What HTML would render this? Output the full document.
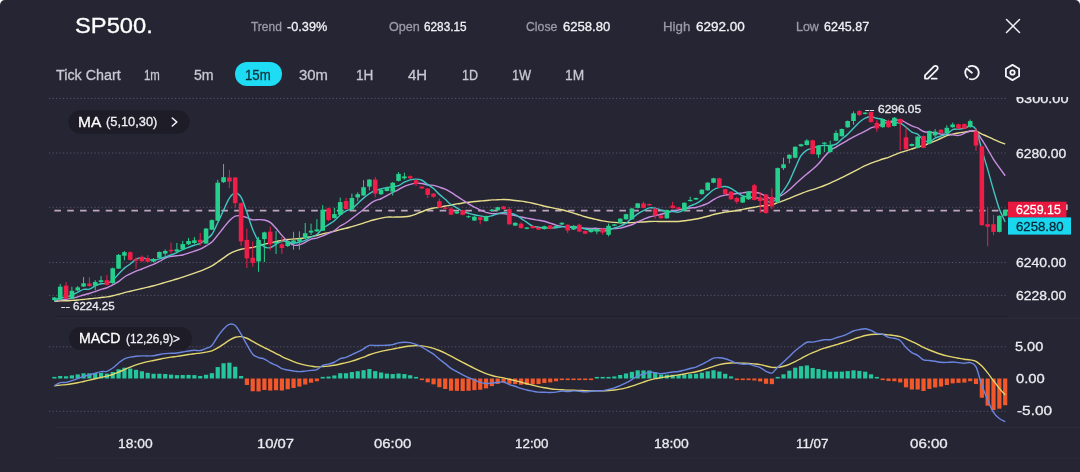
<!DOCTYPE html>
<html><head><meta charset="utf-8"><style>
*{margin:0;padding:0;box-sizing:border-box}
html,body{width:1080px;height:472px;background:#fff;overflow:hidden}
body{font-family:"Liberation Sans",Arial,sans-serif;}
#p{position:absolute;left:0;top:0;width:1080px;height:472px;background:#262534;border-radius:5px 5px 0 0;overflow:hidden}
.t{position:absolute;white-space:pre;line-height:1;transform-origin:0 0;-webkit-text-stroke:0.3px currentColor}
svg{position:absolute;left:0;top:0}
</style></head><body><div id="p">
<svg width="1080" height="472" viewBox="0 0 1080 472">
<line x1="49" y1="98.4" x2="1008" y2="98.4" stroke="#55546a" stroke-width="1" stroke-dasharray="1.2 2.3"/>
<line x1="49" y1="153" x2="1008" y2="153" stroke="#55546a" stroke-width="1" stroke-dasharray="1.2 2.3"/>
<line x1="49" y1="207.3" x2="1008" y2="207.3" stroke="#55546a" stroke-width="1" stroke-dasharray="1.2 2.3"/>
<line x1="49" y1="262.5" x2="1008" y2="262.5" stroke="#55546a" stroke-width="1" stroke-dasharray="1.2 2.3"/>
<line x1="49" y1="295.35" x2="1008" y2="295.35" stroke="#55546a" stroke-width="1" stroke-dasharray="1.2 2.3"/>
<line x1="49" y1="346.8" x2="1008" y2="346.8" stroke="#55546a" stroke-width="1" stroke-dasharray="1.2 2.3"/>
<line x1="49" y1="411.3" x2="1008" y2="411.3" stroke="#55546a" stroke-width="1" stroke-dasharray="1.2 2.3"/>
<line x1="56" y1="317" x2="1008" y2="317" stroke="#1c1b26" stroke-width="1"/>
<line x1="56" y1="318" x2="1080" y2="318" stroke="#2f2e3c" stroke-width="1"/>
<line x1="56" y1="427.6" x2="1080" y2="427.6" stroke="#2e2d3b" stroke-width="1"/>
<line x1="56" y1="458.3" x2="1080" y2="458.3" stroke="#2c2b39" stroke-width="1"/>
<line x1="49" y1="210.6" x2="1008" y2="210.6" stroke="#bda7be" stroke-width="1.6" stroke-dasharray="6.6 6.242" stroke-dashoffset="7.48"/>
<rect x="52.3" y="376.9" width="4.2" height="1.6" fill="#25c69c"/>
<rect x="58.13" y="376" width="4.2" height="2.5" fill="#25c69c"/>
<rect x="63.97" y="376.29" width="4.2" height="2.21" fill="#25c69c"/>
<rect x="69.8" y="375.36" width="4.2" height="3.14" fill="#25c69c"/>
<rect x="75.63" y="374.39" width="4.2" height="4.11" fill="#25c69c"/>
<rect x="81.47" y="373.33" width="4.2" height="5.17" fill="#25c69c"/>
<rect x="87.3" y="373.32" width="4.2" height="5.18" fill="#25c69c"/>
<rect x="93.13" y="372.97" width="4.2" height="5.53" fill="#25c69c"/>
<rect x="98.96" y="372.76" width="4.2" height="5.74" fill="#25c69c"/>
<rect x="104.8" y="373.66" width="4.2" height="4.84" fill="#25c69c"/>
<rect x="110.63" y="371.98" width="4.2" height="6.52" fill="#25c69c"/>
<rect x="116.46" y="369.29" width="4.2" height="9.21" fill="#25c69c"/>
<rect x="122.3" y="367.73" width="4.2" height="10.77" fill="#25c69c"/>
<rect x="128.13" y="368.55" width="4.2" height="9.95" fill="#25c69c"/>
<rect x="133.96" y="369.81" width="4.2" height="8.69" fill="#25c69c"/>
<rect x="139.8" y="371.27" width="4.2" height="7.23" fill="#25c69c"/>
<rect x="145.63" y="372.79" width="4.2" height="5.71" fill="#25c69c"/>
<rect x="151.46" y="373.77" width="4.2" height="4.73" fill="#25c69c"/>
<rect x="157.29" y="373.74" width="4.2" height="4.76" fill="#25c69c"/>
<rect x="163.13" y="374" width="4.2" height="4.5" fill="#25c69c"/>
<rect x="168.96" y="374.63" width="4.2" height="3.87" fill="#25c69c"/>
<rect x="174.79" y="375.14" width="4.2" height="3.36" fill="#25c69c"/>
<rect x="180.63" y="375.03" width="4.2" height="3.47" fill="#25c69c"/>
<rect x="186.46" y="374.89" width="4.2" height="3.61" fill="#25c69c"/>
<rect x="192.29" y="375.1" width="4.2" height="3.4" fill="#25c69c"/>
<rect x="198.13" y="375.96" width="4.2" height="2.54" fill="#25c69c"/>
<rect x="203.96" y="374.77" width="4.2" height="3.73" fill="#25c69c"/>
<rect x="209.79" y="373.18" width="4.2" height="5.32" fill="#25c69c"/>
<rect x="215.62" y="367.07" width="4.2" height="11.43" fill="#25c69c"/>
<rect x="221.46" y="363.28" width="4.2" height="15.22" fill="#25c69c"/>
<rect x="227.29" y="362.68" width="4.2" height="15.82" fill="#25c69c"/>
<rect x="233.12" y="366.73" width="4.2" height="11.77" fill="#25c69c"/>
<rect x="238.96" y="376.04" width="4.2" height="2.46" fill="#25c69c"/>
<rect x="244.79" y="378.5" width="4.2" height="6.46" fill="#f2582a"/>
<rect x="250.62" y="378.5" width="4.2" height="12.76" fill="#f2582a"/>
<rect x="256.45" y="378.5" width="4.2" height="12.91" fill="#f2582a"/>
<rect x="262.29" y="378.5" width="4.2" height="11.5" fill="#f2582a"/>
<rect x="268.12" y="378.5" width="4.2" height="12.09" fill="#f2582a"/>
<rect x="273.95" y="378.5" width="4.2" height="11.73" fill="#f2582a"/>
<rect x="279.79" y="378.5" width="4.2" height="12.03" fill="#f2582a"/>
<rect x="285.62" y="378.5" width="4.2" height="10.79" fill="#f2582a"/>
<rect x="291.45" y="378.5" width="4.2" height="9.47" fill="#f2582a"/>
<rect x="297.29" y="378.5" width="4.2" height="8.08" fill="#f2582a"/>
<rect x="303.12" y="378.5" width="4.2" height="6.05" fill="#f2582a"/>
<rect x="308.95" y="378.5" width="4.2" height="4.21" fill="#f2582a"/>
<rect x="314.78" y="378.5" width="4.2" height="2.75" fill="#f2582a"/>
<rect x="320.62" y="376.9" width="4.2" height="1.6" fill="#25c69c"/>
<rect x="326.45" y="376.57" width="4.2" height="1.93" fill="#25c69c"/>
<rect x="332.28" y="375.44" width="4.2" height="3.06" fill="#25c69c"/>
<rect x="338.12" y="373.2" width="4.2" height="5.3" fill="#25c69c"/>
<rect x="343.95" y="373.25" width="4.2" height="5.25" fill="#25c69c"/>
<rect x="349.78" y="372.03" width="4.2" height="6.47" fill="#25c69c"/>
<rect x="355.62" y="371.2" width="4.2" height="7.3" fill="#25c69c"/>
<rect x="361.45" y="370.18" width="4.2" height="8.32" fill="#25c69c"/>
<rect x="367.28" y="369.02" width="4.2" height="9.48" fill="#25c69c"/>
<rect x="373.11" y="371.12" width="4.2" height="7.38" fill="#25c69c"/>
<rect x="378.95" y="372.48" width="4.2" height="6.02" fill="#25c69c"/>
<rect x="384.78" y="373.61" width="4.2" height="4.89" fill="#25c69c"/>
<rect x="390.61" y="374.06" width="4.2" height="4.44" fill="#25c69c"/>
<rect x="396.45" y="373.5" width="4.2" height="5" fill="#25c69c"/>
<rect x="402.28" y="374.07" width="4.2" height="4.43" fill="#25c69c"/>
<rect x="408.11" y="375.24" width="4.2" height="3.26" fill="#25c69c"/>
<rect x="413.95" y="376.9" width="4.2" height="1.6" fill="#25c69c"/>
<rect x="419.78" y="378.5" width="4.2" height="1.6" fill="#f2582a"/>
<rect x="425.61" y="378.5" width="4.2" height="3.8" fill="#f2582a"/>
<rect x="431.44" y="378.5" width="4.2" height="5.84" fill="#f2582a"/>
<rect x="437.28" y="378.5" width="4.2" height="8.73" fill="#f2582a"/>
<rect x="443.11" y="378.5" width="4.2" height="10.51" fill="#f2582a"/>
<rect x="448.94" y="378.5" width="4.2" height="12.2" fill="#f2582a"/>
<rect x="454.78" y="378.5" width="4.2" height="12.36" fill="#f2582a"/>
<rect x="460.61" y="378.5" width="4.2" height="12.47" fill="#f2582a"/>
<rect x="466.44" y="378.5" width="4.2" height="12.24" fill="#f2582a"/>
<rect x="472.28" y="378.5" width="4.2" height="11.65" fill="#f2582a"/>
<rect x="478.11" y="378.5" width="4.2" height="11.24" fill="#f2582a"/>
<rect x="483.94" y="378.5" width="4.2" height="9.88" fill="#f2582a"/>
<rect x="489.77" y="378.5" width="4.2" height="7.6" fill="#f2582a"/>
<rect x="495.61" y="378.5" width="4.2" height="5.42" fill="#f2582a"/>
<rect x="501.44" y="378.5" width="4.2" height="4.07" fill="#f2582a"/>
<rect x="507.27" y="378.5" width="4.2" height="5.31" fill="#f2582a"/>
<rect x="513.11" y="378.5" width="4.2" height="5.58" fill="#f2582a"/>
<rect x="518.94" y="378.5" width="4.2" height="6.24" fill="#f2582a"/>
<rect x="524.77" y="378.5" width="4.2" height="6.2" fill="#f2582a"/>
<rect x="530.61" y="378.5" width="4.2" height="5.89" fill="#f2582a"/>
<rect x="536.44" y="378.5" width="4.2" height="5.55" fill="#f2582a"/>
<rect x="542.27" y="378.5" width="4.2" height="4.46" fill="#f2582a"/>
<rect x="548.11" y="378.5" width="4.2" height="3.86" fill="#f2582a"/>
<rect x="553.94" y="378.5" width="4.2" height="2.76" fill="#f2582a"/>
<rect x="559.77" y="378.5" width="4.2" height="1.6" fill="#f2582a"/>
<rect x="565.6" y="378.5" width="4.2" height="1.6" fill="#f2582a"/>
<rect x="571.44" y="378.5" width="4.2" height="1.6" fill="#f2582a"/>
<rect x="577.27" y="378.5" width="4.2" height="1.6" fill="#f2582a"/>
<rect x="583.1" y="378.5" width="4.2" height="1.6" fill="#f2582a"/>
<rect x="588.94" y="378.5" width="4.2" height="1.6" fill="#f2582a"/>
<rect x="594.77" y="376.9" width="4.2" height="1.6" fill="#25c69c"/>
<rect x="600.6" y="376.9" width="4.2" height="1.6" fill="#25c69c"/>
<rect x="606.43" y="376.9" width="4.2" height="1.6" fill="#25c69c"/>
<rect x="612.27" y="376.43" width="4.2" height="2.07" fill="#25c69c"/>
<rect x="618.1" y="374.98" width="4.2" height="3.52" fill="#25c69c"/>
<rect x="623.93" y="373.48" width="4.2" height="5.02" fill="#25c69c"/>
<rect x="629.77" y="371.86" width="4.2" height="6.64" fill="#25c69c"/>
<rect x="635.6" y="370.35" width="4.2" height="8.15" fill="#25c69c"/>
<rect x="641.43" y="370.46" width="4.2" height="8.04" fill="#25c69c"/>
<rect x="647.27" y="370.52" width="4.2" height="7.98" fill="#25c69c"/>
<rect x="653.1" y="372.5" width="4.2" height="6" fill="#25c69c"/>
<rect x="658.93" y="374.48" width="4.2" height="4.02" fill="#25c69c"/>
<rect x="664.76" y="374.69" width="4.2" height="3.81" fill="#25c69c"/>
<rect x="670.6" y="374.75" width="4.2" height="3.75" fill="#25c69c"/>
<rect x="676.43" y="375.11" width="4.2" height="3.39" fill="#25c69c"/>
<rect x="682.26" y="374.64" width="4.2" height="3.86" fill="#25c69c"/>
<rect x="688.1" y="374.15" width="4.2" height="4.35" fill="#25c69c"/>
<rect x="693.93" y="373.84" width="4.2" height="4.66" fill="#25c69c"/>
<rect x="699.76" y="372.7" width="4.2" height="5.8" fill="#25c69c"/>
<rect x="705.6" y="371.3" width="4.2" height="7.2" fill="#25c69c"/>
<rect x="711.43" y="370.23" width="4.2" height="8.27" fill="#25c69c"/>
<rect x="717.26" y="371.55" width="4.2" height="6.95" fill="#25c69c"/>
<rect x="723.1" y="373.83" width="4.2" height="4.67" fill="#25c69c"/>
<rect x="728.93" y="376.4" width="4.2" height="2.1" fill="#25c69c"/>
<rect x="734.76" y="378.5" width="4.2" height="1.6" fill="#f2582a"/>
<rect x="740.59" y="378.5" width="4.2" height="1.6" fill="#f2582a"/>
<rect x="746.43" y="378.5" width="4.2" height="1.6" fill="#f2582a"/>
<rect x="752.26" y="378.5" width="4.2" height="1.96" fill="#f2582a"/>
<rect x="758.09" y="378.5" width="4.2" height="2.92" fill="#f2582a"/>
<rect x="763.93" y="378.5" width="4.2" height="5.31" fill="#f2582a"/>
<rect x="769.76" y="378.5" width="4.2" height="5.66" fill="#f2582a"/>
<rect x="775.59" y="376.9" width="4.2" height="1.6" fill="#25c69c"/>
<rect x="781.42" y="374.3" width="4.2" height="4.2" fill="#25c69c"/>
<rect x="787.26" y="370.63" width="4.2" height="7.87" fill="#25c69c"/>
<rect x="793.09" y="367.67" width="4.2" height="10.83" fill="#25c69c"/>
<rect x="798.92" y="366.16" width="4.2" height="12.34" fill="#25c69c"/>
<rect x="804.76" y="365.46" width="4.2" height="13.04" fill="#25c69c"/>
<rect x="810.59" y="367.96" width="4.2" height="10.54" fill="#25c69c"/>
<rect x="816.42" y="369.06" width="4.2" height="9.44" fill="#25c69c"/>
<rect x="822.26" y="370.04" width="4.2" height="8.46" fill="#25c69c"/>
<rect x="828.09" y="371.74" width="4.2" height="6.76" fill="#25c69c"/>
<rect x="833.92" y="371.63" width="4.2" height="6.87" fill="#25c69c"/>
<rect x="839.75" y="371.63" width="4.2" height="6.87" fill="#25c69c"/>
<rect x="845.59" y="371.1" width="4.2" height="7.4" fill="#25c69c"/>
<rect x="851.42" y="370.33" width="4.2" height="8.17" fill="#25c69c"/>
<rect x="857.25" y="370.9" width="4.2" height="7.6" fill="#25c69c"/>
<rect x="863.09" y="371.66" width="4.2" height="6.84" fill="#25c69c"/>
<rect x="868.92" y="374.33" width="4.2" height="4.17" fill="#25c69c"/>
<rect x="874.75" y="376.9" width="4.2" height="1.6" fill="#25c69c"/>
<rect x="880.59" y="378.5" width="4.2" height="1.6" fill="#f2582a"/>
<rect x="886.42" y="378.5" width="4.2" height="2.44" fill="#f2582a"/>
<rect x="892.25" y="378.5" width="4.2" height="2.71" fill="#f2582a"/>
<rect x="898.09" y="378.5" width="4.2" height="3.93" fill="#f2582a"/>
<rect x="903.92" y="378.5" width="4.2" height="8.83" fill="#f2582a"/>
<rect x="909.75" y="378.5" width="4.2" height="11.02" fill="#f2582a"/>
<rect x="915.58" y="378.5" width="4.2" height="11.03" fill="#f2582a"/>
<rect x="921.42" y="378.5" width="4.2" height="12.46" fill="#f2582a"/>
<rect x="927.25" y="378.5" width="4.2" height="10.45" fill="#f2582a"/>
<rect x="933.08" y="378.5" width="4.2" height="8.99" fill="#f2582a"/>
<rect x="938.92" y="378.5" width="4.2" height="8.04" fill="#f2582a"/>
<rect x="944.75" y="378.5" width="4.2" height="6.48" fill="#f2582a"/>
<rect x="950.58" y="378.5" width="4.2" height="4.86" fill="#f2582a"/>
<rect x="956.41" y="378.5" width="4.2" height="4.4" fill="#f2582a"/>
<rect x="962.25" y="378.5" width="4.2" height="4.06" fill="#f2582a"/>
<rect x="968.08" y="378.5" width="4.2" height="2.69" fill="#f2582a"/>
<rect x="973.91" y="378.5" width="4.2" height="5.56" fill="#f2582a"/>
<rect x="979.75" y="378.5" width="4.2" height="19.24" fill="#f2582a"/>
<rect x="985.58" y="378.5" width="4.2" height="27.17" fill="#f2582a"/>
<rect x="991.41" y="378.5" width="4.2" height="31.54" fill="#f2582a"/>
<rect x="997.25" y="378.5" width="4.2" height="30.17" fill="#f2582a"/>
<rect x="1003.08" y="378.5" width="4.2" height="26.74" fill="#f2582a"/>
<path d="M54.4 301.37C55.37 301.28 58.29 300.97 60.23 300.87C62.18 300.77 64.12 300.85 66.07 300.77C68.01 300.7 69.95 300.55 71.9 300.42C73.84 300.28 75.79 300.13 77.73 299.95C79.68 299.77 81.62 299.53 83.56 299.34C85.51 299.15 87.45 299.02 89.4 298.82C91.34 298.63 93.29 298.4 95.23 298.17C97.18 297.95 99.12 297.67 101.06 297.46C103.01 297.25 104.95 297.19 106.9 296.91C108.84 296.63 110.79 296.25 112.73 295.8C114.67 295.36 116.62 294.78 118.56 294.25C120.51 293.72 122.45 293.11 124.4 292.61C126.34 292.1 128.28 291.68 130.23 291.22C132.17 290.76 134.12 290.3 136.06 289.85C138.01 289.4 139.95 288.95 141.9 288.51C143.84 288.07 145.78 287.64 147.73 287.19C149.67 286.73 151.62 286.28 153.56 285.77C155.51 285.26 157.45 284.67 159.39 284.12C161.34 283.56 163.28 282.99 165.23 282.43C167.17 281.87 169.12 281.33 171.06 280.76C173 280.19 174.95 279.63 176.89 279.02C178.84 278.42 180.78 277.76 182.73 277.11C184.67 276.45 186.61 275.77 188.56 275.09C190.5 274.42 192.45 273.72 194.39 273.05C196.34 272.39 198.28 271.82 200.23 271.08C202.17 270.35 204.11 269.51 206.06 268.65C208 267.8 209.95 267.05 211.89 265.94C213.84 264.83 215.78 263.33 217.72 261.98C219.67 260.63 221.61 259.17 223.56 257.84C225.5 256.5 227.45 255.08 229.39 253.97C231.33 252.86 233.28 251.97 235.22 251.19C237.17 250.4 239.11 249.78 241.06 249.28C243 248.78 244.94 248.52 246.89 248.2C248.83 247.88 250.78 247.76 252.72 247.38C254.67 247.01 256.61 246.48 258.56 245.94C260.5 245.4 262.44 244.66 264.39 244.15C266.33 243.64 268.28 243.32 270.22 242.89C272.17 242.47 274.11 242.04 276.05 241.62C278 241.2 279.94 240.74 281.89 240.39C283.83 240.04 285.78 239.72 287.72 239.49C289.66 239.26 291.61 239.16 293.55 239.01C295.5 238.86 297.44 238.79 299.39 238.57C301.33 238.35 303.27 237.99 305.22 237.68C307.16 237.37 309.11 237.03 311.05 236.68C313 236.34 314.94 236.09 316.88 235.62C318.83 235.16 320.77 234.39 322.72 233.89C324.66 233.38 326.61 233.01 328.55 232.59C330.5 232.16 332.44 231.81 334.38 231.32C336.33 230.84 338.27 230.2 340.22 229.69C342.16 229.19 344.11 228.8 346.05 228.28C347.99 227.76 349.94 227.13 351.88 226.57C353.83 226.01 355.77 225.48 357.72 224.91C359.66 224.33 361.6 223.75 363.55 223.11C365.49 222.48 367.44 221.7 369.38 221.09C371.33 220.48 373.27 219.95 375.21 219.46C377.16 218.98 379.1 218.56 381.05 218.17C382.99 217.78 384.94 217.27 386.88 217.1C388.83 216.92 390.77 217.12 392.71 217.1C394.66 217.08 396.6 217.04 398.55 216.99C400.49 216.94 402.44 216.98 404.38 216.82C406.32 216.65 408.27 216.45 410.21 215.99C412.16 215.53 414.1 214.79 416.05 214.08C417.99 213.38 419.93 212.52 421.88 211.75C423.82 210.99 425.77 210.1 427.71 209.49C429.66 208.87 431.6 208.43 433.55 208.05C435.49 207.67 437.43 207.56 439.38 207.22C441.32 206.89 443.27 206.39 445.21 206.04C447.16 205.69 449.1 205.48 451.04 205.13C452.99 204.78 454.93 204.27 456.88 203.92C458.82 203.57 460.77 203.31 462.71 203.03C464.65 202.75 466.6 202.48 468.54 202.22C470.49 201.97 472.43 201.68 474.38 201.48C476.32 201.29 478.26 201.2 480.21 201.04C482.15 200.88 484.1 200.74 486.04 200.55C487.99 200.36 489.93 200.02 491.88 199.89C493.82 199.77 495.76 199.88 497.71 199.81C499.65 199.74 501.6 199.45 503.54 199.45C505.49 199.45 507.43 199.62 509.37 199.79C511.32 199.96 513.26 200.26 515.21 200.48C517.15 200.7 519.1 200.85 521.04 201.12C522.98 201.39 524.93 201.75 526.87 202.1C528.82 202.45 530.76 202.81 532.71 203.23C534.65 203.65 536.59 204.15 538.54 204.64C540.48 205.14 542.43 205.74 544.37 206.2C546.32 206.65 548.26 206.97 550.21 207.37C552.15 207.77 554.09 208.18 556.04 208.58C557.98 208.97 559.93 209.28 561.87 209.74C563.82 210.2 565.76 210.78 567.7 211.33C569.65 211.88 571.59 212.46 573.54 213.06C575.48 213.65 577.43 214.29 579.37 214.9C581.31 215.51 583.26 216.19 585.2 216.75C587.15 217.3 589.09 217.77 591.04 218.24C592.98 218.71 594.92 219.16 596.87 219.59C598.81 220.03 600.76 220.48 602.7 220.85C604.65 221.22 606.59 221.56 608.53 221.82C610.48 222.07 612.42 222.23 614.37 222.38C616.31 222.52 618.26 222.65 620.2 222.71C622.15 222.76 624.09 222.71 626.03 222.69C627.98 222.67 629.92 222.67 631.87 222.59C633.81 222.51 635.76 222.32 637.7 222.21C639.64 222.1 641.59 222.04 643.53 221.93C645.48 221.82 647.42 221.64 649.37 221.55C651.31 221.46 653.25 221.42 655.2 221.4C657.14 221.39 659.09 221.47 661.03 221.48C662.98 221.49 664.92 221.48 666.87 221.49C668.81 221.5 670.75 221.52 672.7 221.52C674.64 221.52 676.59 221.63 678.53 221.51C680.48 221.39 682.42 221.04 684.36 220.79C686.31 220.55 688.25 220.32 690.2 220.03C692.14 219.74 694.09 219.4 696.03 219.03C697.97 218.65 699.92 218.23 701.86 217.77C703.81 217.3 705.75 216.79 707.7 216.25C709.64 215.72 711.58 215.04 713.53 214.54C715.47 214.05 717.42 213.67 719.36 213.27C721.31 212.86 723.25 212.45 725.2 212.11C727.14 211.77 729.08 211.49 731.03 211.22C732.97 210.96 734.92 210.83 736.86 210.52C738.81 210.22 740.75 209.78 742.69 209.4C744.64 209.02 746.58 208.63 748.53 208.26C750.47 207.9 752.42 207.56 754.36 207.21C756.3 206.85 758.25 206.39 760.19 206.12C762.14 205.85 764.08 205.8 766.03 205.59C767.97 205.37 769.91 205.32 771.86 204.83C773.8 204.35 775.75 203.38 777.69 202.68C779.64 201.98 781.58 201.36 783.52 200.63C785.47 199.9 787.41 199.1 789.36 198.31C791.3 197.53 793.25 196.7 795.19 195.92C797.14 195.13 799.08 194.35 801.02 193.59C802.97 192.82 804.91 191.97 806.86 191.32C808.8 190.67 810.75 190.29 812.69 189.67C814.63 189.05 816.58 188.29 818.52 187.6C820.47 186.91 822.41 186.25 824.36 185.51C826.3 184.77 828.24 184.03 830.19 183.16C832.13 182.3 834.08 181.24 836.02 180.32C837.97 179.4 839.91 178.55 841.86 177.62C843.8 176.69 845.74 175.73 847.69 174.72C849.63 173.7 851.58 172.55 853.52 171.53C855.47 170.52 857.41 169.58 859.35 168.61C861.3 167.63 863.24 166.6 865.19 165.7C867.13 164.79 869.08 163.93 871.02 163.17C872.96 162.41 874.91 161.82 876.85 161.13C878.8 160.43 880.74 159.64 882.69 159C884.63 158.37 886.57 157.97 888.52 157.3C890.46 156.63 892.41 155.75 894.35 154.96C896.3 154.17 898.24 153.26 900.19 152.59C902.13 151.91 904.07 151.52 906.02 150.92C907.96 150.32 909.91 149.65 911.85 148.99C913.8 148.33 915.74 147.56 917.68 146.98C919.63 146.41 921.57 146.15 923.52 145.52C925.46 144.89 927.41 143.99 929.35 143.22C931.29 142.45 933.24 141.74 935.18 140.91C937.13 140.08 939.07 139.12 941.02 138.24C942.96 137.36 944.9 136.3 946.85 135.62C948.79 134.94 950.74 134.6 952.68 134.16C954.63 133.72 956.57 133.32 958.51 132.97C960.46 132.62 962.4 132.38 964.35 132.09C966.29 131.8 968.24 131.37 970.18 131.24C972.13 131.1 974.07 130.8 976.01 131.28C977.96 131.76 979.9 133.23 981.85 134.1C983.79 134.97 985.74 135.64 987.68 136.53C989.62 137.41 991.57 138.51 993.51 139.4C995.46 140.29 997.4 141.07 999.35 141.84C1001.29 142.61 1004.21 143.64 1005.18 144" fill="none" stroke="#e6de8c" stroke-width="1.4"/>
<path d="M54.4 301.1C55.37 300.85 58.29 299.92 60.23 299.62C62.18 299.32 64.12 299.55 66.07 299.32C68.01 299.09 69.95 298.66 71.9 298.25C73.84 297.84 75.79 297.38 77.73 296.84C79.68 296.3 81.62 295.58 83.56 295.02C85.51 294.46 87.45 294.05 89.4 293.47C91.34 292.89 93.29 292.2 95.23 291.52C97.18 290.84 99.12 290.02 101.06 289.39C103.01 288.76 104.95 288.49 106.9 287.73C108.84 286.97 110.79 285.83 112.73 284.81C114.67 283.79 116.62 282.93 118.56 281.63C120.51 280.33 122.45 278.29 124.4 277C126.34 275.71 128.28 274.86 130.23 273.9C132.17 272.94 134.12 272.03 136.06 271.22C138.01 270.41 139.95 269.78 141.9 269.01C143.84 268.24 145.78 267.38 147.73 266.59C149.67 265.8 151.62 265.13 153.56 264.28C155.51 263.42 157.45 262.5 159.39 261.46C161.34 260.43 163.28 258.92 165.23 258.07C167.17 257.22 169.12 256.74 171.06 256.37C173 255.99 174.95 256.05 176.89 255.82C178.84 255.59 180.78 255.46 182.73 255.01C184.67 254.56 186.61 253.78 188.56 253.13C190.5 252.48 192.45 251.75 194.39 251.1C196.34 250.45 198.28 250.09 200.23 249.22C202.17 248.35 204.11 247.1 206.06 245.9C208 244.7 209.95 243.82 211.89 242.02C213.84 240.22 215.78 237.48 217.72 235.09C219.67 232.71 221.61 230.1 223.56 227.71C225.5 225.32 227.45 222.67 229.39 220.74C231.33 218.81 233.28 216.93 235.22 216.11C237.17 215.29 239.11 215.59 241.06 215.83C243 216.07 244.94 216.9 246.89 217.57C248.83 218.24 250.78 219.49 252.72 219.83C254.67 220.16 256.61 219.56 258.56 219.58C260.5 219.6 262.44 219.49 264.39 219.96C266.33 220.43 268.28 220.99 270.22 222.38C272.17 223.77 274.11 226.14 276.05 228.31C278 230.48 279.94 233.21 281.89 235.39C283.83 237.57 285.78 239.75 287.72 241.37C289.66 242.99 291.61 244.52 293.55 245.1C295.5 245.68 297.44 245.32 299.39 244.86C301.33 244.4 303.27 243.3 305.22 242.34C307.16 241.38 309.11 239.83 311.05 239.12C313 238.41 314.94 238.62 316.88 238.07C318.83 237.52 320.77 236.59 322.72 235.8C324.66 235.01 326.61 234.23 328.55 233.36C330.5 232.49 332.44 231.8 334.38 230.57C336.33 229.34 338.27 227.28 340.22 225.98C342.16 224.67 344.11 223.99 346.05 222.74C347.99 221.49 349.94 219.95 351.88 218.5C353.83 217.05 355.77 215.54 357.72 214.03C359.66 212.52 361.6 211.05 363.55 209.43C365.49 207.81 367.44 205.77 369.38 204.32C371.33 202.87 373.27 201.67 375.21 200.74C377.16 199.81 379.1 199.61 381.05 198.75C382.99 197.88 384.94 196.61 386.88 195.55C388.83 194.5 390.77 193.41 392.71 192.42C394.66 191.43 396.6 190.61 398.55 189.6C400.49 188.59 402.44 187.21 404.38 186.34C406.32 185.47 408.27 184.87 410.21 184.37C412.16 183.87 414.1 183.51 416.05 183.36C417.99 183.21 419.93 183.21 421.88 183.49C423.82 183.77 425.77 184.71 427.71 185.02C429.66 185.33 431.6 184.99 433.55 185.34C435.49 185.69 437.43 186.47 439.38 187.12C441.32 187.76 443.27 188.33 445.21 189.21C447.16 190.09 449.1 191.24 451.04 192.4C452.99 193.56 454.93 194.9 456.88 196.17C458.82 197.44 460.77 198.74 462.71 200.01C464.65 201.28 466.6 202.62 468.54 203.8C470.49 204.98 472.43 205.99 474.38 207.06C476.32 208.13 478.26 209.32 480.21 210.2C482.15 211.07 484.1 211.74 486.04 212.31C487.99 212.88 489.93 213.39 491.88 213.6C493.82 213.81 495.76 213.56 497.71 213.56C499.65 213.56 501.6 213.42 503.54 213.59C505.49 213.75 507.43 214.2 509.37 214.55C511.32 214.9 513.26 215.26 515.21 215.67C517.15 216.08 519.1 216.59 521.04 217C522.98 217.41 524.93 217.75 526.87 218.13C528.82 218.51 530.76 218.92 532.71 219.27C534.65 219.62 536.59 219.91 538.54 220.24C540.48 220.57 542.43 220.77 544.37 221.26C546.32 221.75 548.26 222.54 550.21 223.17C552.15 223.8 554.09 224.51 556.04 225.05C557.98 225.59 559.93 226.09 561.87 226.42C563.82 226.75 565.76 226.89 567.7 227.04C569.65 227.19 571.59 227.23 573.54 227.34C575.48 227.45 577.43 227.53 579.37 227.69C581.31 227.85 583.26 228.19 585.2 228.31C587.15 228.43 589.09 228.39 591.04 228.39C592.98 228.4 594.92 228.24 596.87 228.34C598.81 228.44 600.76 228.92 602.7 228.98C604.65 229.04 606.59 228.76 608.53 228.68C610.48 228.6 612.42 228.62 614.37 228.52C616.31 228.43 618.26 228.45 620.2 228.11C622.15 227.77 624.09 227.04 626.03 226.48C627.98 225.92 629.92 225.51 631.87 224.75C633.81 223.99 635.76 222.83 637.7 221.93C639.64 221.03 641.59 220.17 643.53 219.35C645.48 218.53 647.42 217.61 649.37 216.99C651.31 216.37 653.25 216.09 655.2 215.63C657.14 215.16 659.09 214.7 661.03 214.2C662.98 213.7 664.92 213.16 666.87 212.62C668.81 212.09 670.75 211.43 672.7 210.99C674.64 210.55 676.59 210.35 678.53 210C680.48 209.64 682.42 209.19 684.36 208.86C686.31 208.53 688.25 208.23 690.2 208C692.14 207.77 694.09 207.85 696.03 207.46C697.97 207.07 699.92 206.32 701.86 205.64C703.81 204.96 705.75 204.38 707.7 203.38C709.64 202.38 711.58 200.79 713.53 199.66C715.47 198.53 717.42 197.39 719.36 196.62C721.31 195.85 723.25 195.45 725.2 195.04C727.14 194.63 729.08 194.42 731.03 194.16C732.97 193.9 734.92 193.68 736.86 193.46C738.81 193.24 740.75 193.1 742.69 192.86C744.64 192.62 746.58 192.14 748.53 192.04C750.47 191.93 752.42 192.01 754.36 192.23C756.3 192.45 758.25 192.67 760.19 193.36C762.14 194.05 764.08 195.42 766.03 196.39C767.97 197.37 769.91 199.07 771.86 199.21C773.8 199.35 775.75 198.06 777.69 197.23C779.64 196.4 781.58 195.48 783.52 194.24C785.47 193 787.41 191.45 789.36 189.79C791.3 188.13 793.25 186.08 795.19 184.29C797.14 182.5 799.08 180.77 801.02 179.04C802.97 177.31 804.91 175.54 806.86 173.92C808.8 172.3 810.75 171.02 812.69 169.33C814.63 167.64 816.58 165.89 818.52 163.8C820.47 161.7 822.41 158.96 824.36 156.76C826.3 154.56 828.24 152.23 830.19 150.62C832.13 149.01 834.08 148.28 836.02 147.11C837.97 145.94 839.91 144.73 841.86 143.58C843.8 142.43 845.74 141.32 847.69 140.2C849.63 139.08 851.58 137.9 853.52 136.85C855.47 135.8 857.41 134.87 859.35 133.92C861.3 132.97 863.24 132.13 865.19 131.13C867.13 130.13 869.08 128.76 871.02 127.94C872.96 127.12 874.91 126.9 876.85 126.22C878.8 125.54 880.74 124.55 882.69 123.86C884.63 123.17 886.57 122.62 888.52 122.07C890.46 121.52 892.41 120.89 894.35 120.54C896.3 120.18 898.24 119.57 900.19 119.94C902.13 120.31 904.07 121.78 906.02 122.76C907.96 123.74 909.91 124.96 911.85 125.83C913.8 126.7 915.74 127.04 917.68 127.99C919.63 128.94 921.57 130.77 923.52 131.51C925.46 132.24 927.41 132.2 929.35 132.4C931.29 132.6 933.24 132.43 935.18 132.71C937.13 132.99 939.07 133.86 941.02 134.1C942.96 134.34 944.9 134.04 946.85 134.16C948.79 134.28 950.74 134.64 952.68 134.84C954.63 135.05 956.57 135.64 958.51 135.39C960.46 135.14 962.4 134.05 964.35 133.32C966.29 132.59 968.24 131.26 970.18 131.03C972.13 130.8 974.07 130.49 976.01 131.93C977.96 133.37 979.9 136.77 981.85 139.66C983.79 142.54 985.74 145.97 987.68 149.24C989.62 152.51 991.57 156.22 993.51 159.27C995.46 162.32 997.4 164.81 999.35 167.56C1001.29 170.31 1004.21 174.39 1005.18 175.76" fill="none" stroke="#c88fe0" stroke-width="1.4"/>
<path d="M54.4 300.7C55.37 300.21 58.29 298.33 60.23 297.74C62.18 297.15 64.12 297.6 66.07 297.14C68.01 296.68 69.95 295.83 71.9 295C73.84 294.17 75.79 293.12 77.73 292.18C79.68 291.24 81.62 289.84 83.56 289.34C85.51 288.84 87.45 289.77 89.4 289.2C91.34 288.63 93.29 286.8 95.23 285.9C97.18 285 99.12 284.22 101.06 283.78C103.01 283.34 104.95 283.86 106.9 283.28C108.84 282.7 110.79 281.82 112.73 280.28C114.67 278.74 116.62 276.09 118.56 274.06C120.51 272.03 122.45 269.77 124.4 268.1C126.34 266.43 128.28 265.51 130.23 264.02C132.17 262.53 134.12 260.21 136.06 259.16C138.01 258.11 139.95 257.75 141.9 257.74C143.84 257.73 145.78 258.67 147.73 259.12C149.67 259.57 151.62 260.5 153.56 260.46C155.51 260.42 157.45 259.48 159.39 258.9C161.34 258.32 163.28 257.63 165.23 256.98C167.17 256.33 169.12 255.74 171.06 255C173 254.26 174.95 253.43 176.89 252.52C178.84 251.61 180.78 250.42 182.73 249.56C184.67 248.7 186.61 248.08 188.56 247.36C190.5 246.64 192.45 245.87 194.39 245.22C196.34 244.57 198.28 244.43 200.23 243.44C202.17 242.45 204.11 240.77 206.06 239.28C208 237.79 209.95 237.22 211.89 234.48C213.84 231.74 215.78 226.87 217.72 222.82C219.67 218.77 221.61 214.33 223.56 210.2C225.5 206.07 227.45 200.92 229.39 198.04C231.33 195.16 233.28 193.08 235.22 192.94C237.17 192.8 239.11 193.95 241.06 197.18C243 200.41 244.94 206.94 246.89 212.32C248.83 217.7 250.78 224.66 252.72 229.46C254.67 234.26 256.61 238.2 258.56 241.12C260.5 244.04 262.44 245.9 264.39 246.98C266.33 248.06 268.28 248.03 270.22 247.58C272.17 247.13 274.11 245.34 276.05 244.3C278 243.26 279.94 241.77 281.89 241.32C283.83 240.87 285.78 241.3 287.72 241.62C289.66 241.94 291.61 243.13 293.55 243.22C295.5 243.31 297.44 242.61 299.39 242.14C301.33 241.67 303.27 241.25 305.22 240.38C307.16 239.51 309.11 237.9 311.05 236.92C313 235.94 314.94 235.94 316.88 234.52C318.83 233.1 320.77 230.04 322.72 228.38C324.66 226.72 326.61 225.85 328.55 224.58C330.5 223.31 332.44 222.35 334.38 220.76C336.33 219.17 338.27 216.67 340.22 215.04C342.16 213.41 344.11 212.03 346.05 210.96C347.99 209.89 349.94 209.87 351.88 208.62C353.83 207.37 355.77 205.23 357.72 203.48C359.66 201.73 361.6 199.75 363.55 198.1C365.49 196.45 367.44 194.86 369.38 193.6C371.33 192.34 373.27 191.31 375.21 190.52C377.16 189.73 379.1 189.36 381.05 188.88C382.99 188.4 384.94 187.98 386.88 187.62C388.83 187.26 390.77 187.08 392.71 186.74C394.66 186.4 396.6 186.36 398.55 185.6C400.49 184.84 402.44 183.12 404.38 182.16C406.32 181.2 408.27 180.37 410.21 179.86C412.16 179.35 414.1 179.04 416.05 179.1C417.99 179.16 419.93 179.35 421.88 180.24C423.82 181.13 425.77 183.06 427.71 184.44C429.66 185.82 431.6 186.86 433.55 188.52C435.49 190.18 437.43 192.58 439.38 194.38C441.32 196.18 443.27 197.62 445.21 199.32C447.16 201.02 449.1 203.13 451.04 204.56C452.99 205.99 454.93 206.74 456.88 207.9C458.82 209.06 460.77 210.61 462.71 211.5C464.65 212.39 466.6 212.67 468.54 213.22C470.49 213.77 472.43 214.36 474.38 214.8C476.32 215.24 478.26 215.52 480.21 215.84C482.15 216.16 484.1 216.74 486.04 216.72C487.99 216.7 489.93 216.17 491.88 215.7C493.82 215.23 495.76 214.45 497.71 213.9C499.65 213.35 501.6 212.49 503.54 212.38C505.49 212.27 507.43 212.89 509.37 213.26C511.32 213.63 513.26 213.78 515.21 214.62C517.15 215.46 519.1 217.01 521.04 218.3C522.98 219.59 524.93 221.05 526.87 222.36C528.82 223.67 530.76 225.35 532.71 226.16C534.65 226.97 536.59 226.93 538.54 227.22C540.48 227.51 542.43 227.76 544.37 227.9C546.32 228.04 548.26 228.07 550.21 228.04C552.15 228.01 554.09 227.97 556.04 227.74C557.98 227.51 559.93 226.83 561.87 226.68C563.82 226.53 565.76 226.84 567.7 226.86C569.65 226.88 571.59 226.7 573.54 226.78C575.48 226.86 577.43 226.99 579.37 227.34C581.31 227.69 583.26 228.42 585.2 228.88C587.15 229.34 589.09 229.94 591.04 230.1C592.98 230.26 594.92 229.64 596.87 229.82C598.81 230 600.76 231.15 602.7 231.18C604.65 231.21 606.59 230.52 608.53 230.02C610.48 229.52 612.42 228.81 614.37 228.16C616.31 227.51 618.26 226.96 620.2 226.12C622.15 225.28 624.09 224.44 626.03 223.14C627.98 221.84 629.92 219.87 631.87 218.32C633.81 216.77 635.76 215.14 637.7 213.84C639.64 212.54 641.59 211.54 643.53 210.54C645.48 209.54 647.42 208.26 649.37 207.86C651.31 207.46 653.25 207.75 655.2 208.12C657.14 208.49 659.09 209.53 661.03 210.08C662.98 210.63 664.92 211.17 666.87 211.4C668.81 211.63 670.75 211.32 672.7 211.44C674.64 211.56 676.59 212.45 678.53 212.14C680.48 211.83 682.42 210.64 684.36 209.6C686.31 208.56 688.25 206.93 690.2 205.92C692.14 204.91 694.09 204.53 696.03 203.52C697.97 202.51 699.92 201.32 701.86 199.84C703.81 198.36 705.75 196.31 707.7 194.62C709.64 192.93 711.58 190.94 713.53 189.72C715.47 188.5 717.42 187.85 719.36 187.32C721.31 186.79 723.25 186.37 725.2 186.56C727.14 186.75 729.08 187.52 731.03 188.48C732.97 189.44 734.92 191.05 736.86 192.3C738.81 193.55 740.75 195.26 742.69 196C744.64 196.74 746.58 196.44 748.53 196.76C750.47 197.08 752.42 197.65 754.36 197.9C756.3 198.15 758.25 197.81 760.19 198.24C762.14 198.67 764.08 199.78 766.03 200.48C767.97 201.18 769.91 202.88 771.86 202.42C773.8 201.96 775.75 199.67 777.69 197.7C779.64 195.73 781.58 193.31 783.52 190.58C785.47 187.85 787.41 185.09 789.36 181.34C791.3 177.59 793.25 172.38 795.19 168.1C797.14 163.82 799.08 158.65 801.02 155.66C802.97 152.67 804.91 151.4 806.86 150.14C808.8 148.88 810.75 148.73 812.69 148.08C814.63 147.43 816.58 146.7 818.52 146.26C820.47 145.82 822.41 145.53 824.36 145.42C826.3 145.31 828.24 145.8 830.19 145.58C832.13 145.36 834.08 145.16 836.02 144.08C837.97 143 839.91 140.74 841.86 139.08C843.8 137.42 845.74 135.94 847.69 134.14C849.63 132.34 851.58 130.26 853.52 128.28C855.47 126.3 857.41 123.94 859.35 122.26C861.3 120.58 863.24 119.09 865.19 118.18C867.13 117.27 869.08 116.78 871.02 116.8C872.96 116.82 874.91 117.86 876.85 118.3C878.8 118.74 880.74 118.84 882.69 119.44C884.63 120.04 886.57 121.3 888.52 121.88C890.46 122.46 892.41 122.7 894.35 122.9C896.3 123.1 898.24 122.36 900.19 123.08C902.13 123.8 904.07 125.7 906.02 127.22C907.96 128.74 909.91 131.07 911.85 132.22C913.8 133.37 915.74 132.78 917.68 134.1C919.63 135.42 921.57 138.85 923.52 140.12C925.46 141.39 927.41 142.04 929.35 141.72C931.29 141.4 933.24 139.16 935.18 138.2C937.13 137.24 939.07 136.64 941.02 135.98C942.96 135.32 944.9 135.29 946.85 134.22C948.79 133.15 950.74 130.42 952.68 129.56C954.63 128.7 956.57 129.25 958.51 129.06C960.46 128.87 962.4 128.94 964.35 128.44C966.29 127.94 968.24 125.88 970.18 126.08C972.13 126.28 974.07 125.69 976.01 129.64C977.96 133.59 979.9 143.13 981.85 149.76C983.79 156.39 985.74 162.7 987.68 169.42C989.62 176.14 991.57 183.5 993.51 190.1C995.46 196.7 997.4 203.74 999.35 209.04C1001.29 214.34 1004.21 219.74 1005.18 221.88" fill="none" stroke="#40c6c2" stroke-width="1.4"/>
<line x1="54.4" y1="297" x2="54.4" y2="301" stroke="#26cf8c" stroke-width="1"/>
<rect x="52.1" y="297.5" width="4.6" height="2.5" fill="#26cf8c"/>
<line x1="60.23" y1="284" x2="60.23" y2="300" stroke="#26cf8c" stroke-width="1"/>
<rect x="57.93" y="286.7" width="4.6" height="13" fill="#26cf8c"/>
<line x1="66.07" y1="282.2" x2="66.07" y2="299" stroke="#f01d48" stroke-width="1"/>
<rect x="63.77" y="285.6" width="4.6" height="12.9" fill="#f01d48"/>
<line x1="71.9" y1="286.7" x2="71.9" y2="299.5" stroke="#26cf8c" stroke-width="1"/>
<rect x="69.6" y="290.8" width="4.6" height="8.1" fill="#26cf8c"/>
<line x1="77.73" y1="286" x2="77.73" y2="291" stroke="#26cf8c" stroke-width="1"/>
<rect x="75.43" y="287.4" width="4.6" height="3" fill="#26cf8c"/>
<line x1="83.56" y1="277" x2="83.56" y2="287" stroke="#26cf8c" stroke-width="1"/>
<rect x="81.27" y="283.3" width="4.6" height="3.2" fill="#26cf8c"/>
<line x1="89.4" y1="277.3" x2="89.4" y2="287" stroke="#f01d48" stroke-width="1"/>
<rect x="87.1" y="283.5" width="4.6" height="2.5" fill="#f01d48"/>
<line x1="95.23" y1="280.2" x2="95.23" y2="290.1" stroke="#26cf8c" stroke-width="1"/>
<rect x="92.93" y="282" width="4.6" height="3.7" fill="#26cf8c"/>
<line x1="101.06" y1="276.1" x2="101.06" y2="283" stroke="#26cf8c" stroke-width="1"/>
<rect x="98.76" y="280.2" width="4.6" height="1.8" fill="#26cf8c"/>
<line x1="106.9" y1="275" x2="106.9" y2="285.5" stroke="#f01d48" stroke-width="1"/>
<rect x="104.6" y="280.2" width="4.6" height="4.7" fill="#f01d48"/>
<line x1="112.73" y1="267.5" x2="112.73" y2="284" stroke="#26cf8c" stroke-width="1"/>
<rect x="110.43" y="268.3" width="4.6" height="14.8" fill="#26cf8c"/>
<line x1="118.56" y1="254" x2="118.56" y2="269" stroke="#26cf8c" stroke-width="1"/>
<rect x="116.26" y="254.9" width="4.6" height="13.7" fill="#26cf8c"/>
<line x1="124.4" y1="251" x2="124.4" y2="260.4" stroke="#26cf8c" stroke-width="1"/>
<rect x="122.1" y="252.2" width="4.6" height="3.5" fill="#26cf8c"/>
<line x1="130.23" y1="251.5" x2="130.23" y2="260.5" stroke="#f01d48" stroke-width="1"/>
<rect x="127.93" y="252.2" width="4.6" height="7.6" fill="#f01d48"/>
<line x1="136.06" y1="257.5" x2="136.06" y2="268.8" stroke="#f01d48" stroke-width="1"/>
<rect x="133.76" y="259.3" width="4.6" height="1.3" fill="#f01d48"/>
<line x1="141.9" y1="255.5" x2="141.9" y2="262" stroke="#f01d48" stroke-width="1"/>
<rect x="139.59" y="256.8" width="4.6" height="4.4" fill="#f01d48"/>
<line x1="147.73" y1="255.2" x2="147.73" y2="262.3" stroke="#f01d48" stroke-width="1"/>
<rect x="145.43" y="258" width="4.6" height="3.8" fill="#f01d48"/>
<line x1="153.56" y1="258" x2="153.56" y2="262.5" stroke="#26cf8c" stroke-width="1"/>
<rect x="151.26" y="258.9" width="4.6" height="2.7" fill="#26cf8c"/>
<line x1="159.39" y1="251.5" x2="159.39" y2="258.5" stroke="#26cf8c" stroke-width="1"/>
<rect x="157.09" y="252" width="4.6" height="5.9" fill="#26cf8c"/>
<line x1="165.23" y1="249.4" x2="165.23" y2="255.8" stroke="#26cf8c" stroke-width="1"/>
<rect x="162.93" y="251" width="4.6" height="2.6" fill="#26cf8c"/>
<line x1="171.06" y1="242.5" x2="171.06" y2="253.6" stroke="#f01d48" stroke-width="1"/>
<rect x="168.76" y="249.8" width="4.6" height="1.5" fill="#f01d48"/>
<line x1="176.89" y1="243" x2="176.89" y2="252.6" stroke="#26cf8c" stroke-width="1"/>
<rect x="174.59" y="249.4" width="4.6" height="2.1" fill="#26cf8c"/>
<line x1="182.73" y1="240.9" x2="182.73" y2="250" stroke="#26cf8c" stroke-width="1"/>
<rect x="180.43" y="244.1" width="4.6" height="5.3" fill="#26cf8c"/>
<line x1="188.56" y1="237.9" x2="188.56" y2="245" stroke="#26cf8c" stroke-width="1"/>
<rect x="186.26" y="241" width="4.6" height="3.3" fill="#26cf8c"/>
<line x1="194.39" y1="237" x2="194.39" y2="244" stroke="#26cf8c" stroke-width="1"/>
<rect x="192.09" y="240.3" width="4.6" height="2.7" fill="#26cf8c"/>
<line x1="200.23" y1="232.9" x2="200.23" y2="245.6" stroke="#f01d48" stroke-width="1"/>
<rect x="197.93" y="239.8" width="4.6" height="2.6" fill="#f01d48"/>
<line x1="206.06" y1="228" x2="206.06" y2="244" stroke="#26cf8c" stroke-width="1"/>
<rect x="203.76" y="228.6" width="4.6" height="14.9" fill="#26cf8c"/>
<line x1="211.89" y1="219.5" x2="211.89" y2="230" stroke="#26cf8c" stroke-width="1"/>
<rect x="209.59" y="220.1" width="4.6" height="9.6" fill="#26cf8c"/>
<line x1="217.72" y1="179.8" x2="217.72" y2="221" stroke="#26cf8c" stroke-width="1"/>
<rect x="215.42" y="182.7" width="4.6" height="38" fill="#26cf8c"/>
<line x1="223.56" y1="164.1" x2="223.56" y2="183" stroke="#26cf8c" stroke-width="1"/>
<rect x="221.26" y="177.2" width="4.6" height="4.9" fill="#26cf8c"/>
<line x1="229.39" y1="169.9" x2="229.39" y2="188" stroke="#f01d48" stroke-width="1"/>
<rect x="227.09" y="177.5" width="4.6" height="4.1" fill="#f01d48"/>
<line x1="235.22" y1="177" x2="235.22" y2="207.8" stroke="#f01d48" stroke-width="1"/>
<rect x="232.92" y="177.5" width="4.6" height="25.6" fill="#f01d48"/>
<line x1="241.06" y1="202.5" x2="241.06" y2="245.8" stroke="#f01d48" stroke-width="1"/>
<rect x="238.76" y="203.1" width="4.6" height="38.2" fill="#f01d48"/>
<line x1="246.89" y1="228.7" x2="246.89" y2="268" stroke="#f01d48" stroke-width="1"/>
<rect x="244.59" y="239.9" width="4.6" height="18.5" fill="#f01d48"/>
<line x1="252.72" y1="241.4" x2="252.72" y2="266.6" stroke="#f01d48" stroke-width="1"/>
<rect x="250.42" y="257.7" width="4.6" height="5.2" fill="#f01d48"/>
<line x1="258.56" y1="236.9" x2="258.56" y2="271.8" stroke="#26cf8c" stroke-width="1"/>
<rect x="256.25" y="239.9" width="4.6" height="21.5" fill="#26cf8c"/>
<line x1="264.39" y1="231.7" x2="264.39" y2="262.1" stroke="#26cf8c" stroke-width="1"/>
<rect x="262.09" y="232.4" width="4.6" height="6.7" fill="#26cf8c"/>
<line x1="270.22" y1="226.5" x2="270.22" y2="250.3" stroke="#f01d48" stroke-width="1"/>
<rect x="267.92" y="231.7" width="4.6" height="12.6" fill="#f01d48"/>
<line x1="276.05" y1="231" x2="276.05" y2="254" stroke="#26cf8c" stroke-width="1"/>
<rect x="273.75" y="242" width="4.6" height="1.6" fill="#26cf8c"/>
<line x1="281.89" y1="236.9" x2="281.89" y2="254" stroke="#f01d48" stroke-width="1"/>
<rect x="279.59" y="244.3" width="4.6" height="3.7" fill="#f01d48"/>
<line x1="287.72" y1="240.5" x2="287.72" y2="247" stroke="#26cf8c" stroke-width="1"/>
<rect x="285.42" y="241.4" width="4.6" height="4.6" fill="#26cf8c"/>
<line x1="293.55" y1="231.8" x2="293.55" y2="249.7" stroke="#26cf8c" stroke-width="1"/>
<rect x="291.25" y="240.4" width="4.6" height="2.6" fill="#26cf8c"/>
<line x1="299.39" y1="231.3" x2="299.39" y2="249.7" stroke="#26cf8c" stroke-width="1"/>
<rect x="297.09" y="238.9" width="4.6" height="2.6" fill="#26cf8c"/>
<line x1="305.22" y1="223" x2="305.22" y2="239" stroke="#26cf8c" stroke-width="1"/>
<rect x="302.92" y="233.2" width="4.6" height="5.1" fill="#26cf8c"/>
<line x1="311.05" y1="223.7" x2="311.05" y2="235.1" stroke="#26cf8c" stroke-width="1"/>
<rect x="308.75" y="230.7" width="4.6" height="1.9" fill="#26cf8c"/>
<line x1="316.88" y1="219.2" x2="316.88" y2="232" stroke="#26cf8c" stroke-width="1"/>
<rect x="314.58" y="229.4" width="4.6" height="1.9" fill="#26cf8c"/>
<line x1="322.72" y1="205.2" x2="322.72" y2="231" stroke="#26cf8c" stroke-width="1"/>
<rect x="320.42" y="209.7" width="4.6" height="21" fill="#26cf8c"/>
<line x1="328.55" y1="207.8" x2="328.55" y2="221.1" stroke="#f01d48" stroke-width="1"/>
<rect x="326.25" y="208.4" width="4.6" height="11.5" fill="#f01d48"/>
<line x1="334.38" y1="207.8" x2="334.38" y2="218.5" stroke="#26cf8c" stroke-width="1"/>
<rect x="332.08" y="214.1" width="4.6" height="3.9" fill="#26cf8c"/>
<line x1="340.22" y1="197.6" x2="340.22" y2="215" stroke="#26cf8c" stroke-width="1"/>
<rect x="337.92" y="202.1" width="4.6" height="12.7" fill="#26cf8c"/>
<line x1="346.05" y1="197.8" x2="346.05" y2="209.5" stroke="#f01d48" stroke-width="1"/>
<rect x="343.75" y="201" width="4.6" height="8" fill="#f01d48"/>
<line x1="351.88" y1="193.6" x2="351.88" y2="210" stroke="#26cf8c" stroke-width="1"/>
<rect x="349.58" y="198" width="4.6" height="11.5" fill="#26cf8c"/>
<line x1="357.72" y1="192.3" x2="357.72" y2="201.2" stroke="#26cf8c" stroke-width="1"/>
<rect x="355.42" y="194.2" width="4.6" height="3.2" fill="#26cf8c"/>
<line x1="363.55" y1="180.2" x2="363.55" y2="196" stroke="#26cf8c" stroke-width="1"/>
<rect x="361.25" y="187.2" width="4.6" height="8.3" fill="#26cf8c"/>
<line x1="369.38" y1="179" x2="369.38" y2="190.4" stroke="#26cf8c" stroke-width="1"/>
<rect x="367.08" y="179.6" width="4.6" height="7" fill="#26cf8c"/>
<line x1="375.21" y1="177.1" x2="375.21" y2="197.4" stroke="#f01d48" stroke-width="1"/>
<rect x="372.91" y="179.6" width="4.6" height="14" fill="#f01d48"/>
<line x1="381.05" y1="189" x2="381.05" y2="195" stroke="#26cf8c" stroke-width="1"/>
<rect x="378.75" y="189.8" width="4.6" height="4.4" fill="#26cf8c"/>
<line x1="386.88" y1="186.6" x2="386.88" y2="191.5" stroke="#26cf8c" stroke-width="1"/>
<rect x="384.58" y="187.9" width="4.6" height="3.1" fill="#26cf8c"/>
<line x1="392.71" y1="182" x2="392.71" y2="195.5" stroke="#26cf8c" stroke-width="1"/>
<rect x="390.41" y="182.8" width="4.6" height="8.9" fill="#26cf8c"/>
<line x1="398.55" y1="172" x2="398.55" y2="181.5" stroke="#26cf8c" stroke-width="1"/>
<rect x="396.25" y="173.9" width="4.6" height="7" fill="#26cf8c"/>
<line x1="404.38" y1="172.6" x2="404.38" y2="179.6" stroke="#26cf8c" stroke-width="1"/>
<rect x="402.08" y="176.4" width="4.6" height="1.9" fill="#26cf8c"/>
<line x1="410.21" y1="175.5" x2="410.21" y2="179" stroke="#f01d48" stroke-width="1"/>
<rect x="407.91" y="176.2" width="4.6" height="2.1" fill="#f01d48"/>
<line x1="416.05" y1="179.5" x2="416.05" y2="186" stroke="#f01d48" stroke-width="1"/>
<rect x="413.75" y="180.2" width="4.6" height="3.9" fill="#f01d48"/>
<line x1="421.88" y1="186" x2="421.88" y2="189" stroke="#f01d48" stroke-width="1"/>
<rect x="419.58" y="186.6" width="4.6" height="1.9" fill="#f01d48"/>
<line x1="427.71" y1="188" x2="427.71" y2="198" stroke="#f01d48" stroke-width="1"/>
<rect x="425.41" y="188.5" width="4.6" height="6.4" fill="#f01d48"/>
<line x1="433.55" y1="193" x2="433.55" y2="197.8" stroke="#f01d48" stroke-width="1"/>
<rect x="431.25" y="193.6" width="4.6" height="3.2" fill="#f01d48"/>
<line x1="439.38" y1="198.7" x2="439.38" y2="208" stroke="#f01d48" stroke-width="1"/>
<rect x="437.08" y="201.2" width="4.6" height="6.4" fill="#f01d48"/>
<line x1="445.21" y1="207" x2="445.21" y2="209.5" stroke="#f01d48" stroke-width="1"/>
<rect x="442.91" y="207.6" width="4.6" height="1.2" fill="#f01d48"/>
<line x1="451.04" y1="207" x2="451.04" y2="215" stroke="#f01d48" stroke-width="1"/>
<rect x="448.74" y="208.6" width="4.6" height="6.1" fill="#f01d48"/>
<line x1="456.88" y1="211" x2="456.88" y2="214" stroke="#26cf8c" stroke-width="1"/>
<rect x="454.58" y="211.6" width="4.6" height="1.9" fill="#26cf8c"/>
<line x1="462.71" y1="209.8" x2="462.71" y2="215.3" stroke="#f01d48" stroke-width="1"/>
<rect x="460.41" y="210.3" width="4.6" height="4.5" fill="#f01d48"/>
<line x1="468.54" y1="215.5" x2="468.54" y2="218" stroke="#26cf8c" stroke-width="1"/>
<rect x="466.24" y="216.2" width="4.6" height="1" fill="#26cf8c"/>
<line x1="474.38" y1="216" x2="474.38" y2="221" stroke="#26cf8c" stroke-width="1"/>
<rect x="472.08" y="216.7" width="4.6" height="3.8" fill="#26cf8c"/>
<line x1="480.21" y1="216.8" x2="480.21" y2="224.3" stroke="#f01d48" stroke-width="1"/>
<rect x="477.91" y="217.3" width="4.6" height="2.6" fill="#f01d48"/>
<line x1="486.04" y1="215.5" x2="486.04" y2="221.5" stroke="#26cf8c" stroke-width="1"/>
<rect x="483.74" y="216" width="4.6" height="5.1" fill="#26cf8c"/>
<line x1="491.88" y1="209" x2="491.88" y2="211.5" stroke="#26cf8c" stroke-width="1"/>
<rect x="489.57" y="209.7" width="4.6" height="1.3" fill="#26cf8c"/>
<line x1="497.71" y1="206.8" x2="497.71" y2="210.8" stroke="#26cf8c" stroke-width="1"/>
<rect x="495.41" y="207.2" width="4.6" height="3.1" fill="#26cf8c"/>
<line x1="503.54" y1="206" x2="503.54" y2="209.5" stroke="#f01d48" stroke-width="1"/>
<rect x="501.24" y="206.5" width="4.6" height="2.6" fill="#f01d48"/>
<line x1="509.37" y1="207" x2="509.37" y2="224.8" stroke="#f01d48" stroke-width="1"/>
<rect x="507.07" y="209.1" width="4.6" height="15.2" fill="#f01d48"/>
<line x1="515.21" y1="222.3" x2="515.21" y2="226" stroke="#26cf8c" stroke-width="1"/>
<rect x="512.91" y="222.8" width="4.6" height="2.8" fill="#26cf8c"/>
<line x1="521.04" y1="222.4" x2="521.04" y2="228.5" stroke="#f01d48" stroke-width="1"/>
<rect x="518.74" y="223.7" width="4.6" height="4.4" fill="#f01d48"/>
<line x1="526.87" y1="227" x2="526.87" y2="229.3" stroke="#26cf8c" stroke-width="1"/>
<rect x="524.57" y="227.5" width="4.6" height="1.3" fill="#26cf8c"/>
<line x1="532.71" y1="225.7" x2="532.71" y2="228.6" stroke="#f01d48" stroke-width="1"/>
<rect x="530.41" y="226.2" width="4.6" height="1.9" fill="#f01d48"/>
<line x1="538.54" y1="227.4" x2="538.54" y2="230" stroke="#f01d48" stroke-width="1"/>
<rect x="536.24" y="227.9" width="4.6" height="1.7" fill="#f01d48"/>
<line x1="544.37" y1="225.7" x2="544.37" y2="229.6" stroke="#26cf8c" stroke-width="1"/>
<rect x="542.07" y="226.2" width="4.6" height="2.9" fill="#26cf8c"/>
<line x1="550.21" y1="225.1" x2="550.21" y2="229.3" stroke="#f01d48" stroke-width="1"/>
<rect x="547.91" y="225.6" width="4.6" height="3.2" fill="#f01d48"/>
<line x1="556.04" y1="225.5" x2="556.04" y2="227.5" stroke="#26cf8c" stroke-width="1"/>
<rect x="553.74" y="226" width="4.6" height="1" fill="#26cf8c"/>
<line x1="561.87" y1="222.3" x2="561.87" y2="225" stroke="#26cf8c" stroke-width="1"/>
<rect x="559.57" y="222.8" width="4.6" height="1.7" fill="#26cf8c"/>
<line x1="567.7" y1="224.2" x2="567.7" y2="233.2" stroke="#f01d48" stroke-width="1"/>
<rect x="565.4" y="224.7" width="4.6" height="5.8" fill="#f01d48"/>
<line x1="573.54" y1="225.3" x2="573.54" y2="230" stroke="#26cf8c" stroke-width="1"/>
<rect x="571.24" y="225.8" width="4.6" height="3.7" fill="#26cf8c"/>
<line x1="579.37" y1="223.6" x2="579.37" y2="232" stroke="#f01d48" stroke-width="1"/>
<rect x="577.07" y="224.7" width="4.6" height="6.9" fill="#f01d48"/>
<line x1="585.2" y1="230.5" x2="585.2" y2="234.2" stroke="#f01d48" stroke-width="1"/>
<rect x="582.9" y="231" width="4.6" height="2.7" fill="#f01d48"/>
<line x1="591.04" y1="228.4" x2="591.04" y2="232.6" stroke="#26cf8c" stroke-width="1"/>
<rect x="588.74" y="228.9" width="4.6" height="3.2" fill="#26cf8c"/>
<line x1="596.87" y1="228.6" x2="596.87" y2="234.2" stroke="#26cf8c" stroke-width="1"/>
<rect x="594.57" y="229.1" width="4.6" height="2.5" fill="#26cf8c"/>
<line x1="602.7" y1="228.4" x2="602.7" y2="234.8" stroke="#f01d48" stroke-width="1"/>
<rect x="600.4" y="228.9" width="4.6" height="3.7" fill="#f01d48"/>
<line x1="608.53" y1="223.6" x2="608.53" y2="236.4" stroke="#26cf8c" stroke-width="1"/>
<rect x="606.24" y="225.8" width="4.6" height="9" fill="#26cf8c"/>
<line x1="614.37" y1="224" x2="614.37" y2="226.2" stroke="#26cf8c" stroke-width="1"/>
<rect x="612.07" y="224.4" width="4.6" height="1.3" fill="#26cf8c"/>
<line x1="620.2" y1="218.2" x2="620.2" y2="223.8" stroke="#26cf8c" stroke-width="1"/>
<rect x="617.9" y="218.7" width="4.6" height="4.4" fill="#26cf8c"/>
<line x1="626.03" y1="213.7" x2="626.03" y2="219.8" stroke="#26cf8c" stroke-width="1"/>
<rect x="623.73" y="214.2" width="4.6" height="5.1" fill="#26cf8c"/>
<line x1="631.87" y1="208" x2="631.87" y2="219.8" stroke="#26cf8c" stroke-width="1"/>
<rect x="629.57" y="208.5" width="4.6" height="10.8" fill="#26cf8c"/>
<line x1="637.7" y1="203" x2="637.7" y2="208.4" stroke="#26cf8c" stroke-width="1"/>
<rect x="635.4" y="203.4" width="4.6" height="4.5" fill="#26cf8c"/>
<line x1="643.53" y1="201.5" x2="643.53" y2="208.4" stroke="#f01d48" stroke-width="1"/>
<rect x="641.23" y="203.4" width="4.6" height="4.5" fill="#f01d48"/>
<line x1="649.37" y1="203.5" x2="649.37" y2="205.8" stroke="#f01d48" stroke-width="1"/>
<rect x="647.07" y="204" width="4.6" height="1.3" fill="#f01d48"/>
<line x1="655.2" y1="208" x2="655.2" y2="218.7" stroke="#f01d48" stroke-width="1"/>
<rect x="652.9" y="208.5" width="4.6" height="7" fill="#f01d48"/>
<line x1="661.03" y1="215" x2="661.03" y2="218.8" stroke="#f01d48" stroke-width="1"/>
<rect x="658.73" y="215.5" width="4.6" height="2.8" fill="#f01d48"/>
<line x1="666.87" y1="209.5" x2="666.87" y2="218.8" stroke="#26cf8c" stroke-width="1"/>
<rect x="664.57" y="210" width="4.6" height="8.3" fill="#26cf8c"/>
<line x1="672.7" y1="201.8" x2="672.7" y2="208.6" stroke="#f01d48" stroke-width="1"/>
<rect x="670.4" y="205.6" width="4.6" height="2.5" fill="#f01d48"/>
<line x1="678.53" y1="207" x2="678.53" y2="209.3" stroke="#f01d48" stroke-width="1"/>
<rect x="676.23" y="207.5" width="4.6" height="1.3" fill="#f01d48"/>
<line x1="684.36" y1="202.3" x2="684.36" y2="211.2" stroke="#26cf8c" stroke-width="1"/>
<rect x="682.06" y="202.8" width="4.6" height="7.9" fill="#26cf8c"/>
<line x1="690.2" y1="196.7" x2="690.2" y2="201.6" stroke="#26cf8c" stroke-width="1"/>
<rect x="687.9" y="199.9" width="4.6" height="1.2" fill="#26cf8c"/>
<line x1="696.03" y1="197.5" x2="696.03" y2="200" stroke="#26cf8c" stroke-width="1"/>
<rect x="693.73" y="198" width="4.6" height="1.5" fill="#26cf8c"/>
<line x1="701.86" y1="189.2" x2="701.86" y2="194.6" stroke="#26cf8c" stroke-width="1"/>
<rect x="699.56" y="189.7" width="4.6" height="4.4" fill="#26cf8c"/>
<line x1="707.7" y1="182.2" x2="707.7" y2="190.8" stroke="#26cf8c" stroke-width="1"/>
<rect x="705.4" y="182.7" width="4.6" height="7.6" fill="#26cf8c"/>
<line x1="713.53" y1="177.8" x2="713.53" y2="183.2" stroke="#26cf8c" stroke-width="1"/>
<rect x="711.23" y="178.3" width="4.6" height="4.4" fill="#26cf8c"/>
<line x1="719.36" y1="177.8" x2="719.36" y2="188.4" stroke="#f01d48" stroke-width="1"/>
<rect x="717.06" y="178.3" width="4.6" height="9.6" fill="#f01d48"/>
<line x1="725.2" y1="188.6" x2="725.2" y2="194.7" stroke="#f01d48" stroke-width="1"/>
<rect x="722.9" y="189.1" width="4.6" height="5.1" fill="#f01d48"/>
<line x1="731.03" y1="191.2" x2="731.03" y2="199.8" stroke="#f01d48" stroke-width="1"/>
<rect x="728.73" y="191.7" width="4.6" height="7.6" fill="#f01d48"/>
<line x1="736.86" y1="196.8" x2="736.86" y2="203.8" stroke="#f01d48" stroke-width="1"/>
<rect x="734.56" y="198" width="4.6" height="3.8" fill="#f01d48"/>
<line x1="742.69" y1="196.3" x2="742.69" y2="203" stroke="#26cf8c" stroke-width="1"/>
<rect x="740.39" y="196.8" width="4.6" height="5.7" fill="#26cf8c"/>
<line x1="748.53" y1="191.2" x2="748.53" y2="199.8" stroke="#26cf8c" stroke-width="1"/>
<rect x="746.23" y="191.7" width="4.6" height="7.6" fill="#26cf8c"/>
<line x1="754.36" y1="184" x2="754.36" y2="200.4" stroke="#f01d48" stroke-width="1"/>
<rect x="752.06" y="185.3" width="4.6" height="14.6" fill="#f01d48"/>
<line x1="760.19" y1="192.2" x2="760.19" y2="213.1" stroke="#f01d48" stroke-width="1"/>
<rect x="757.89" y="197.5" width="4.6" height="3.5" fill="#f01d48"/>
<line x1="766.03" y1="194" x2="766.03" y2="213.9" stroke="#f01d48" stroke-width="1"/>
<rect x="763.73" y="194.5" width="4.6" height="18.5" fill="#f01d48"/>
<line x1="771.86" y1="188.3" x2="771.86" y2="209.3" stroke="#f01d48" stroke-width="1"/>
<rect x="769.56" y="196.9" width="4.6" height="9.6" fill="#f01d48"/>
<line x1="777.69" y1="167.5" x2="777.69" y2="203" stroke="#26cf8c" stroke-width="1"/>
<rect x="775.39" y="168.1" width="4.6" height="34.4" fill="#26cf8c"/>
<line x1="783.52" y1="157.7" x2="783.52" y2="170" stroke="#26cf8c" stroke-width="1"/>
<rect x="781.23" y="164.3" width="4.6" height="3.8" fill="#26cf8c"/>
<line x1="789.36" y1="154.3" x2="789.36" y2="163.4" stroke="#26cf8c" stroke-width="1"/>
<rect x="787.06" y="154.8" width="4.6" height="3.8" fill="#26cf8c"/>
<line x1="795.19" y1="146.3" x2="795.19" y2="158.2" stroke="#26cf8c" stroke-width="1"/>
<rect x="792.89" y="146.8" width="4.6" height="10.9" fill="#26cf8c"/>
<line x1="801.02" y1="143.8" x2="801.02" y2="146.7" stroke="#26cf8c" stroke-width="1"/>
<rect x="798.72" y="144.3" width="4.6" height="1.9" fill="#26cf8c"/>
<line x1="806.86" y1="139.2" x2="806.86" y2="145.5" stroke="#26cf8c" stroke-width="1"/>
<rect x="804.56" y="140.5" width="4.6" height="4.5" fill="#26cf8c"/>
<line x1="812.69" y1="139.8" x2="812.69" y2="154.5" stroke="#f01d48" stroke-width="1"/>
<rect x="810.39" y="140.3" width="4.6" height="13.7" fill="#f01d48"/>
<line x1="818.52" y1="145.2" x2="818.52" y2="157.8" stroke="#26cf8c" stroke-width="1"/>
<rect x="816.22" y="145.7" width="4.6" height="8.9" fill="#26cf8c"/>
<line x1="824.36" y1="142.1" x2="824.36" y2="152.1" stroke="#26cf8c" stroke-width="1"/>
<rect x="822.06" y="142.6" width="4.6" height="1.2" fill="#26cf8c"/>
<line x1="830.19" y1="140.7" x2="830.19" y2="152.6" stroke="#26cf8c" stroke-width="1"/>
<rect x="827.89" y="145.1" width="4.6" height="7" fill="#26cf8c"/>
<line x1="836.02" y1="130.5" x2="836.02" y2="141.2" stroke="#26cf8c" stroke-width="1"/>
<rect x="833.72" y="133" width="4.6" height="7.7" fill="#26cf8c"/>
<line x1="841.86" y1="128.5" x2="841.86" y2="136.7" stroke="#26cf8c" stroke-width="1"/>
<rect x="839.56" y="129" width="4.6" height="7.2" fill="#26cf8c"/>
<line x1="847.69" y1="120.5" x2="847.69" y2="127.8" stroke="#26cf8c" stroke-width="1"/>
<rect x="845.39" y="121" width="4.6" height="6.3" fill="#26cf8c"/>
<line x1="853.52" y1="111.4" x2="853.52" y2="124.8" stroke="#26cf8c" stroke-width="1"/>
<rect x="851.22" y="113.3" width="4.6" height="7.7" fill="#26cf8c"/>
<line x1="859.35" y1="109.8" x2="859.35" y2="116" stroke="#f01d48" stroke-width="1"/>
<rect x="857.05" y="111" width="4.6" height="4" fill="#f01d48"/>
<line x1="865.19" y1="112" x2="865.19" y2="114.5" stroke="#26cf8c" stroke-width="1"/>
<rect x="862.89" y="112.6" width="4.6" height="1.3" fill="#26cf8c"/>
<line x1="871.02" y1="111.5" x2="871.02" y2="122.6" stroke="#f01d48" stroke-width="1"/>
<rect x="868.72" y="112" width="4.6" height="10.1" fill="#f01d48"/>
<line x1="876.85" y1="120.2" x2="876.85" y2="131.7" stroke="#f01d48" stroke-width="1"/>
<rect x="874.55" y="122.8" width="4.6" height="5.7" fill="#f01d48"/>
<line x1="882.69" y1="118.5" x2="882.69" y2="127.7" stroke="#26cf8c" stroke-width="1"/>
<rect x="880.39" y="119" width="4.6" height="8.2" fill="#26cf8c"/>
<line x1="888.52" y1="119.6" x2="888.52" y2="127.7" stroke="#f01d48" stroke-width="1"/>
<rect x="886.22" y="120.9" width="4.6" height="6.3" fill="#f01d48"/>
<line x1="894.35" y1="117.2" x2="894.35" y2="126.5" stroke="#26cf8c" stroke-width="1"/>
<rect x="892.05" y="117.7" width="4.6" height="8.3" fill="#26cf8c"/>
<line x1="900.19" y1="118.5" x2="900.19" y2="150.5" stroke="#f01d48" stroke-width="1"/>
<rect x="897.89" y="119" width="4.6" height="4" fill="#f01d48"/>
<line x1="906.02" y1="127.5" x2="906.02" y2="149.7" stroke="#f01d48" stroke-width="1"/>
<rect x="903.72" y="137.3" width="4.6" height="11.9" fill="#f01d48"/>
<line x1="911.85" y1="143.5" x2="911.85" y2="146.5" stroke="#26cf8c" stroke-width="1"/>
<rect x="909.55" y="144" width="4.6" height="2" fill="#26cf8c"/>
<line x1="917.68" y1="136.1" x2="917.68" y2="148.3" stroke="#26cf8c" stroke-width="1"/>
<rect x="915.38" y="136.6" width="4.6" height="11.2" fill="#26cf8c"/>
<line x1="923.52" y1="135.5" x2="923.52" y2="148.3" stroke="#f01d48" stroke-width="1"/>
<rect x="921.22" y="136" width="4.6" height="11.8" fill="#f01d48"/>
<line x1="929.35" y1="130.5" x2="929.35" y2="144.2" stroke="#26cf8c" stroke-width="1"/>
<rect x="927.05" y="131" width="4.6" height="12.7" fill="#26cf8c"/>
<line x1="935.18" y1="129.1" x2="935.18" y2="137.3" stroke="#26cf8c" stroke-width="1"/>
<rect x="932.88" y="131.6" width="4.6" height="3.8" fill="#26cf8c"/>
<line x1="941.02" y1="129.2" x2="941.02" y2="133.4" stroke="#f01d48" stroke-width="1"/>
<rect x="938.72" y="129.7" width="4.6" height="3.2" fill="#f01d48"/>
<line x1="946.85" y1="125.2" x2="946.85" y2="133.8" stroke="#26cf8c" stroke-width="1"/>
<rect x="944.55" y="127.8" width="4.6" height="5.5" fill="#26cf8c"/>
<line x1="952.68" y1="122.6" x2="952.68" y2="127.7" stroke="#26cf8c" stroke-width="1"/>
<rect x="950.38" y="124.5" width="4.6" height="2.7" fill="#26cf8c"/>
<line x1="958.51" y1="123.8" x2="958.51" y2="129" stroke="#f01d48" stroke-width="1"/>
<rect x="956.22" y="124.3" width="4.6" height="4.2" fill="#f01d48"/>
<line x1="964.35" y1="123.6" x2="964.35" y2="129" stroke="#f01d48" stroke-width="1"/>
<rect x="962.05" y="124.1" width="4.6" height="4.4" fill="#f01d48"/>
<line x1="970.18" y1="119.6" x2="970.18" y2="127.6" stroke="#26cf8c" stroke-width="1"/>
<rect x="967.88" y="121.1" width="4.6" height="6" fill="#26cf8c"/>
<line x1="976.01" y1="128" x2="976.01" y2="150.8" stroke="#f01d48" stroke-width="1"/>
<rect x="973.71" y="131.5" width="4.6" height="14.1" fill="#f01d48"/>
<line x1="981.85" y1="146" x2="981.85" y2="226" stroke="#f01d48" stroke-width="1"/>
<rect x="979.55" y="146.4" width="4.6" height="78.7" fill="#f01d48"/>
<line x1="987.68" y1="208.1" x2="987.68" y2="246.3" stroke="#f01d48" stroke-width="1"/>
<rect x="985.38" y="224.2" width="4.6" height="2.6" fill="#f01d48"/>
<line x1="993.51" y1="214.9" x2="993.51" y2="235.3" stroke="#f01d48" stroke-width="1"/>
<rect x="991.21" y="224.2" width="4.6" height="7.7" fill="#f01d48"/>
<line x1="999.35" y1="215.3" x2="999.35" y2="232.4" stroke="#26cf8c" stroke-width="1"/>
<rect x="997.05" y="215.8" width="4.6" height="16.1" fill="#26cf8c"/>
<line x1="1005.18" y1="209.3" x2="1005.18" y2="216.3" stroke="#26cf8c" stroke-width="1"/>
<rect x="1002.88" y="209.8" width="4.6" height="6" fill="#26cf8c"/>
<path d="M54.4 385.76C55.37 385.65 58.29 385.33 60.23 385.13C62.18 384.94 64.12 384.8 66.07 384.58C68.01 384.36 69.95 384.1 71.9 383.8C73.84 383.49 75.79 383.15 77.73 382.77C79.68 382.38 81.62 381.91 83.56 381.48C85.51 381.05 87.45 380.63 89.4 380.18C91.34 379.74 93.29 379.27 95.23 378.8C97.18 378.33 99.12 377.81 101.06 377.37C103.01 376.93 104.95 376.63 106.9 376.16C108.84 375.68 110.79 375.18 112.73 374.53C114.67 373.87 116.62 373.06 118.56 372.22C120.51 371.39 122.45 370.39 124.4 369.53C126.34 368.67 128.28 367.82 130.23 367.04C132.17 366.27 134.12 365.53 136.06 364.87C138.01 364.21 139.95 363.6 141.9 363.06C143.84 362.52 145.78 362.07 147.73 361.63C149.67 361.2 151.62 360.85 153.56 360.45C155.51 360.06 157.45 359.65 159.39 359.26C161.34 358.88 163.28 358.49 165.23 358.14C167.17 357.79 169.12 357.47 171.06 357.17C173 356.87 174.95 356.62 176.89 356.33C178.84 356.05 180.78 355.76 182.73 355.47C184.67 355.17 186.61 354.85 188.56 354.56C190.5 354.27 192.45 353.96 194.39 353.71C196.34 353.47 198.28 353.34 200.23 353.08C202.17 352.82 204.11 352.52 206.06 352.15C208 351.77 209.95 351.51 211.89 350.82C213.84 350.12 215.78 349.07 217.72 347.96C219.67 346.85 221.61 345.45 223.56 344.15C225.5 342.86 227.45 341.35 229.39 340.2C231.33 339.05 233.28 337.85 235.22 337.26C237.17 336.66 239.11 336.48 241.06 336.64C243 336.81 244.94 337.46 246.89 338.26C248.83 339.06 250.78 340.38 252.72 341.45C254.67 342.52 256.61 343.66 258.56 344.68C260.5 345.69 262.44 346.57 264.39 347.55C266.33 348.53 268.28 349.58 270.22 350.57C272.17 351.57 274.11 352.52 276.05 353.51C278 354.5 279.94 355.56 281.89 356.51C283.83 357.46 285.78 358.37 287.72 359.21C289.66 360.06 291.61 360.85 293.55 361.58C295.5 362.31 297.44 363.01 299.39 363.6C301.33 364.19 303.27 364.68 305.22 365.11C307.16 365.54 309.11 365.87 311.05 366.16C313 366.45 314.94 366.79 316.88 366.85C318.83 366.92 320.77 366.69 322.72 366.56C324.66 366.43 326.61 366.28 328.55 366.08C330.5 365.87 332.44 365.66 334.38 365.31C336.33 364.96 338.27 364.43 340.22 363.99C342.16 363.55 344.11 363.16 346.05 362.67C347.99 362.19 349.94 361.63 351.88 361.06C353.83 360.48 355.77 359.88 357.72 359.23C359.66 358.58 361.6 357.89 363.55 357.15C365.49 356.41 367.44 355.48 369.38 354.78C371.33 354.08 373.27 353.49 375.21 352.93C377.16 352.38 379.1 351.88 381.05 351.43C382.99 350.98 384.94 350.6 386.88 350.21C388.83 349.82 390.77 349.49 392.71 349.1C394.66 348.71 396.6 348.24 398.55 347.85C400.49 347.46 402.44 347.06 404.38 346.74C406.32 346.42 408.27 346.11 410.21 345.93C412.16 345.74 414.1 345.63 416.05 345.63C417.99 345.63 419.93 345.71 421.88 345.91C423.82 346.12 425.77 346.46 427.71 346.86C429.66 347.27 431.6 347.72 433.55 348.32C435.49 348.93 437.43 349.7 439.38 350.51C441.32 351.31 443.27 352.19 445.21 353.13C447.16 354.08 449.1 355.16 451.04 356.19C452.99 357.21 454.93 358.24 456.88 359.27C458.82 360.31 460.77 361.36 462.71 362.39C464.65 363.42 466.6 364.46 468.54 365.45C470.49 366.45 472.43 367.41 474.38 368.36C476.32 369.32 478.26 370.29 480.21 371.17C482.15 372.05 484.1 372.92 486.04 373.64C487.99 374.37 489.93 375 491.88 375.54C493.82 376.09 495.76 376.5 497.71 376.9C499.65 377.29 501.6 377.52 503.54 377.92C505.49 378.31 507.43 378.79 509.37 379.24C511.32 379.7 513.26 380.15 515.21 380.64C517.15 381.13 519.1 381.68 521.04 382.2C522.98 382.72 524.93 383.25 526.87 383.75C528.82 384.25 530.76 384.74 532.71 385.22C534.65 385.7 536.59 386.19 538.54 386.61C540.48 387.03 542.43 387.38 544.37 387.73C546.32 388.07 548.26 388.41 550.21 388.69C552.15 388.97 554.09 389.21 556.04 389.38C557.98 389.55 559.93 389.6 561.87 389.72C563.82 389.83 565.76 389.99 567.7 390.08C569.65 390.16 571.59 390.17 573.54 390.23C575.48 390.29 577.43 390.36 579.37 390.44C581.31 390.52 583.26 390.66 585.2 390.72C587.15 390.79 589.09 390.82 591.04 390.83C592.98 390.84 594.92 390.81 596.87 390.8C598.81 390.8 600.76 390.84 602.7 390.79C604.65 390.74 606.59 390.64 608.53 390.51C610.48 390.38 612.42 390.23 614.37 389.99C616.31 389.76 618.26 389.47 620.2 389.11C622.15 388.76 624.09 388.35 626.03 387.86C627.98 387.37 629.92 386.82 631.87 386.2C633.81 385.58 635.76 384.84 637.7 384.16C639.64 383.49 641.59 382.82 643.53 382.15C645.48 381.48 647.42 380.74 649.37 380.16C651.31 379.57 653.25 379.07 655.2 378.66C657.14 378.24 659.09 377.98 661.03 377.65C662.98 377.33 664.92 377.02 666.87 376.7C668.81 376.39 670.75 376.06 672.7 375.76C674.64 375.46 676.59 375.22 678.53 374.91C680.48 374.61 682.42 374.29 684.36 373.95C686.31 373.61 688.25 373.24 690.2 372.86C692.14 372.49 694.09 372.14 696.03 371.7C697.97 371.26 699.92 370.79 701.86 370.25C703.81 369.71 705.75 369.09 707.7 368.45C709.64 367.8 711.58 367.02 713.53 366.38C715.47 365.75 717.42 365.13 719.36 364.65C721.31 364.16 723.25 363.76 725.2 363.48C727.14 363.2 729.08 363.03 731.03 362.95C732.97 362.87 734.92 362.94 736.86 362.99C738.81 363.03 740.75 363.15 742.69 363.22C744.64 363.29 746.58 363.3 748.53 363.41C750.47 363.52 752.42 363.7 754.36 363.9C756.3 364.1 758.25 364.29 760.19 364.63C762.14 364.97 764.08 365.5 766.03 365.96C767.97 366.42 769.91 367.14 771.86 367.37C773.8 367.6 775.75 367.53 777.69 367.35C779.64 367.17 781.58 366.8 783.52 366.3C785.47 365.79 787.41 365.11 789.36 364.33C791.3 363.55 793.25 362.59 795.19 361.62C797.14 360.66 799.08 359.59 801.02 358.54C802.97 357.48 804.91 356.26 806.86 355.28C808.8 354.29 810.75 353.47 812.69 352.64C814.63 351.81 816.58 351.03 818.52 350.28C820.47 349.54 822.41 348.8 824.36 348.17C826.3 347.53 828.24 347.04 830.19 346.48C832.13 345.91 834.08 345.33 836.02 344.76C837.97 344.19 839.91 343.64 841.86 343.04C843.8 342.45 845.74 341.84 847.69 341.19C849.63 340.54 851.58 339.81 853.52 339.15C855.47 338.49 857.41 337.85 859.35 337.25C861.3 336.65 863.24 336 865.19 335.54C867.13 335.08 869.08 334.71 871.02 334.49C872.96 334.28 874.91 334.3 876.85 334.27C878.8 334.23 880.74 334.19 882.69 334.3C884.63 334.41 886.57 334.7 888.52 334.91C890.46 335.12 892.41 335.31 894.35 335.59C896.3 335.86 898.24 336.04 900.19 336.57C902.13 337.1 904.07 337.95 906.02 338.78C907.96 339.61 909.91 340.62 911.85 341.53C913.8 342.45 915.74 343.31 917.68 344.29C919.63 345.27 921.57 346.45 923.52 347.41C925.46 348.36 927.41 349.21 929.35 350.02C931.29 350.83 933.24 351.56 935.18 352.27C937.13 352.98 939.07 353.67 941.02 354.28C942.96 354.88 944.9 355.43 946.85 355.9C948.79 356.37 950.74 356.73 952.68 357.11C954.63 357.5 956.57 357.86 958.51 358.21C960.46 358.57 962.4 358.95 964.35 359.23C966.29 359.51 968.24 359.56 970.18 359.9C972.13 360.25 974.07 360.26 976.01 361.29C977.96 362.33 979.9 364.17 981.85 366.1C983.79 368.04 985.74 370.45 987.68 372.9C989.62 375.34 991.57 378.21 993.51 380.78C995.46 383.35 997.4 385.95 999.35 388.32C1001.29 390.7 1004.21 393.9 1005.18 395.01" fill="none" stroke="#e2d56c" stroke-width="1.4"/>
<path d="M54.4 385.76C55.37 385.24 58.29 383.2 60.23 382.63C62.18 382.07 64.12 382.7 66.07 382.37C68.01 382.04 69.95 381.28 71.9 380.66C73.84 380.04 75.79 379.38 77.73 378.66C79.68 377.93 81.62 376.92 83.56 376.31C85.51 375.7 87.45 375.51 89.4 375.01C91.34 374.5 93.29 373.83 95.23 373.27C97.18 372.71 99.12 371.96 101.06 371.63C103.01 371.3 104.95 371.91 106.9 371.31C108.84 370.71 110.79 369.39 112.73 368.01C114.67 366.62 116.62 364.55 118.56 363.01C120.51 361.47 122.45 359.75 124.4 358.76C126.34 357.77 128.28 357.52 130.23 357.09C132.17 356.66 134.12 356.39 136.06 356.18C138.01 355.97 139.95 355.87 141.9 355.83C143.84 355.79 145.78 355.95 147.73 355.93C149.67 355.91 151.62 355.95 153.56 355.72C155.51 355.48 157.45 354.85 159.39 354.51C161.34 354.16 163.28 353.84 165.23 353.64C167.17 353.44 169.12 353.42 171.06 353.31C173 353.19 174.95 353.19 176.89 352.97C178.84 352.75 180.78 352.34 182.73 352C184.67 351.66 186.61 351.23 188.56 350.95C190.5 350.67 192.45 350.39 194.39 350.32C196.34 350.25 198.28 350.85 200.23 350.53C202.17 350.22 204.11 349.26 206.06 348.42C208 347.58 209.95 347.48 211.89 345.5C213.84 343.52 215.78 339.29 217.72 336.52C219.67 333.76 221.61 330.96 223.56 328.93C225.5 326.91 227.45 324.96 229.39 324.38C231.33 323.81 233.28 323.86 235.22 325.49C237.17 327.13 239.11 330.97 241.06 334.18C243 337.38 244.94 341.38 246.89 344.72C248.83 348.06 250.78 352.07 252.72 354.21C254.67 356.36 256.61 356.78 258.56 357.58C260.5 358.39 262.44 358.2 264.39 359.05C266.33 359.89 268.28 361.63 270.22 362.66C272.17 363.69 274.11 364.26 276.05 365.24C278 366.22 279.94 367.75 281.89 368.55C283.83 369.34 285.78 369.58 287.72 370C289.66 370.42 291.61 370.77 293.55 371.05C295.5 371.33 297.44 371.65 299.39 371.67C301.33 371.69 303.27 371.38 305.22 371.16C307.16 370.95 309.11 370.64 311.05 370.38C313 370.12 314.94 370.44 316.88 369.6C318.83 368.77 320.77 366.29 322.72 365.38C324.66 364.47 326.61 364.67 328.55 364.15C330.5 363.63 332.44 363.16 334.38 362.25C336.33 361.34 338.27 359.49 340.22 358.69C342.16 357.88 344.11 358.1 346.05 357.42C347.99 356.74 349.94 355.51 351.88 354.59C353.83 353.68 355.77 352.89 357.72 351.93C359.66 350.97 361.6 349.93 363.55 348.83C365.49 347.72 367.44 345.84 369.38 345.3C371.33 344.75 373.27 345.53 375.21 345.55C377.16 345.57 379.1 345.45 381.05 345.41C382.99 345.37 384.94 345.45 386.88 345.32C388.83 345.2 390.77 345.07 392.71 344.66C394.66 344.25 396.6 343.25 398.55 342.85C400.49 342.46 402.44 342.35 404.38 342.31C406.32 342.28 408.27 342.31 410.21 342.66C412.16 343.02 414.1 343.71 416.05 344.44C417.99 345.17 419.93 346.01 421.88 347.05C423.82 348.09 425.77 349.48 427.71 350.66C429.66 351.85 431.6 352.74 433.55 354.17C435.49 355.6 437.43 357.65 439.38 359.23C441.32 360.81 443.27 362.12 445.21 363.65C447.16 365.17 449.1 367.06 451.04 368.39C452.99 369.72 454.93 370.55 456.88 371.63C458.82 372.71 460.77 373.85 462.71 374.86C464.65 375.87 466.6 376.83 468.54 377.69C470.49 378.55 472.43 379.22 474.38 380.01C476.32 380.8 478.26 381.83 480.21 382.42C482.15 383 484.1 383.4 486.04 383.52C487.99 383.64 489.93 383.34 491.88 383.14C493.82 382.94 495.76 382.51 497.71 382.32C499.65 382.13 501.6 381.61 503.54 381.99C505.49 382.36 507.43 383.85 509.37 384.56C511.32 385.26 513.26 385.58 515.21 386.22C517.15 386.87 519.1 387.82 521.04 388.44C522.98 389.06 524.93 389.5 526.87 389.95C528.82 390.39 530.76 390.74 532.71 391.11C534.65 391.48 536.59 391.98 538.54 392.16C540.48 392.34 542.43 392.13 544.37 392.19C546.32 392.25 548.26 392.56 550.21 392.55C552.15 392.54 554.09 392.39 556.04 392.14C557.98 391.89 559.93 391.16 561.87 391.06C563.82 390.95 565.76 391.56 567.7 391.52C569.65 391.49 571.59 390.89 573.54 390.85C575.48 390.81 577.43 391.11 579.37 391.28C581.31 391.44 583.26 391.86 585.2 391.86C587.15 391.86 589.09 391.46 591.04 391.26C592.98 391.07 594.92 390.77 596.87 390.69C598.81 390.6 600.76 390.97 602.7 390.75C604.65 390.54 606.59 389.86 608.53 389.39C610.48 388.91 612.42 388.56 614.37 387.92C616.31 387.29 618.26 386.44 620.2 385.6C622.15 384.75 624.09 383.85 626.03 382.84C627.98 381.83 629.92 380.7 631.87 379.56C633.81 378.42 635.76 376.92 637.7 376.01C639.64 375.1 641.59 374.75 643.53 374.11C645.48 373.47 647.42 372.42 649.37 372.18C651.31 371.94 653.25 372.42 655.2 372.66C657.14 372.91 659.09 373.6 661.03 373.64C662.98 373.68 664.92 373.16 666.87 372.89C668.81 372.62 670.75 372.24 672.7 372.01C674.64 371.78 676.59 371.84 678.53 371.53C680.48 371.21 682.42 370.59 684.36 370.09C686.31 369.59 688.25 369.03 690.2 368.52C692.14 368.01 694.09 367.72 696.03 367.04C697.97 366.36 699.92 365.41 701.86 364.45C703.81 363.48 705.75 362.31 707.7 361.25C709.64 360.2 711.58 358.71 713.53 358.11C715.47 357.52 717.42 357.59 719.36 357.7C721.31 357.82 723.25 358.28 725.2 358.8C727.14 359.33 729.08 360.13 731.03 360.86C732.97 361.58 734.92 362.59 736.86 363.14C738.81 363.69 740.75 363.98 742.69 364.15C744.64 364.32 746.58 363.87 748.53 364.15C750.47 364.44 752.42 365.3 754.36 365.86C756.3 366.43 758.25 366.65 760.19 367.55C762.14 368.46 764.08 370.36 766.03 371.27C767.97 372.18 769.91 373.71 771.86 373.04C773.8 372.36 775.75 369.06 777.69 367.23C779.64 365.41 781.58 363.89 783.52 362.09C785.47 360.3 787.41 358.35 789.36 356.46C791.3 354.58 793.25 352.5 795.19 350.79C797.14 349.08 799.08 347.62 801.02 346.19C802.97 344.77 804.91 342.92 806.86 342.24C808.8 341.56 810.75 342.33 812.69 342.1C814.63 341.87 816.58 341.24 818.52 340.84C820.47 340.44 822.41 339.89 824.36 339.7C826.3 339.52 828.24 340.02 830.19 339.72C832.13 339.42 834.08 338.49 836.02 337.89C837.97 337.3 839.91 336.85 841.86 336.17C843.8 335.49 845.74 334.65 847.69 333.79C849.63 332.93 851.58 331.67 853.52 330.98C855.47 330.29 857.41 330.02 859.35 329.64C861.3 329.26 863.24 328.59 865.19 328.7C867.13 328.81 869.08 329.55 871.02 330.32C872.96 331.1 874.91 332.66 876.85 333.35C878.8 334.03 880.74 333.77 882.69 334.44C884.63 335.11 886.57 336.7 888.52 337.35C890.46 337.99 892.41 337.77 894.35 338.3C896.3 338.83 898.24 338.95 900.19 340.51C902.13 342.06 904.07 345.61 906.02 347.61C907.96 349.62 909.91 351.27 911.85 352.55C913.8 353.84 915.74 354.1 917.68 355.32C919.63 356.54 921.57 359.01 923.52 359.87C925.46 360.73 927.41 360.24 929.35 360.47C931.29 360.7 933.24 360.95 935.18 361.26C937.13 361.57 939.07 362.14 941.02 362.32C942.96 362.51 944.9 362.43 946.85 362.38C948.79 362.32 950.74 361.94 952.68 361.98C954.63 362.02 956.57 362.39 958.51 362.61C960.46 362.83 962.4 363.29 964.35 363.29C966.29 363.28 968.24 362 970.18 362.59C972.13 363.19 974.07 363.07 976.01 366.86C977.96 370.65 979.9 379.81 981.85 385.34C983.79 390.88 985.74 395.57 987.68 400.07C989.62 404.56 991.57 409.25 993.51 412.32C995.46 415.39 997.4 416.93 999.35 418.5C1001.29 420.07 1004.21 421.21 1005.18 421.75" fill="none" stroke="#6a86e0" stroke-width="1.4"/>
<rect x="68.5" y="110.2" width="121" height="23.5" rx="11.75" fill="#1d1c27"/>
<rect x="69" y="327" width="123" height="23" rx="11.5" fill="#1d1c27"/>
<path d="M172.3 118 L176.8 122 L172.3 126" stroke="#f4f4f8" stroke-width="1.6" fill="none" stroke-linecap="round" stroke-linejoin="round"/>
<rect x="1008" y="201.7" width="58.5" height="15.7" fill="#e8183f"/>
<rect x="1008" y="217.4" width="63" height="17.2" fill="#19d7ee"/>
<path d="M1066.9 204.8 V209.6" stroke="#f2dfe6" stroke-width="1.3" stroke-linecap="round" fill="none"/>
<path d="M1006.5 19.5 L1019.5 32.5 M1019.5 19.5 L1006.5 32.5" stroke="#f4f4f8" stroke-width="1.45" fill="none" stroke-linecap="round"/>
<rect x="235" y="62" width="47" height="24" rx="12" fill="#1ddcf3"/>
<g stroke="#f4f4f8" stroke-width="1.8" fill="none" stroke-linecap="round" stroke-linejoin="round"><path d="M928 78.6 L937.06 69.56 A2.2 2.2 0 0 0 933.94 66.44 L925 75.39 L925 78.6 Z"/><path d="M931.7 78.7 H936.7"/><path d="M968.63 66.75 A6.75 6.75 0 1 1 969.8 78.98"/><path d="M967.48 77.62 A6.75 6.75 0 0 1 966.61 68.54 L971.9 72.7"/><path d="M1012.5 64.9 L1019.1 68.7 L1019.1 76.3 L1012.5 80.1 L1005.9 76.3 L1005.9 68.7 Z"/><circle cx="1012.5" cy="72.5" r="2.2"/></g>
</svg>
<div class="t" style="left:74.9px;top:15.06px;font-size:21.6px;transform:scaleX(1.0985);color:#ffffff">SP500.</div>
<div class="t" style="left:250.6px;top:20.17px;font-size:13px;transform:scaleX(0.9212);color:#9c9aa8">Trend</div>
<div class="t" style="left:286.9px;top:20.17px;font-size:13px;transform:scaleX(0.9780);color:#f2f2f6">-0.39%</div>
<div class="t" style="left:388.9px;top:20.17px;font-size:13px;transform:scaleX(0.9677);color:#9c9aa8">Open</div>
<div class="t" style="left:424.4px;top:20.17px;font-size:13px;transform:scaleX(0.9064);color:#f2f2f6">6283.15</div>
<div class="t" style="left:525.6px;top:20.17px;font-size:13px;transform:scaleX(0.9424);color:#9c9aa8">Close</div>
<div class="t" style="left:562.7px;top:20.17px;font-size:13px;transform:scaleX(1.0064);color:#f2f2f6">6258.80</div>
<div class="t" style="left:663.38px;top:20.17px;font-size:13px;transform:scaleX(1.0240);color:#9c9aa8">High</div>
<div class="t" style="left:695.6px;top:20.17px;font-size:13px;transform:scaleX(1.0383);color:#f2f2f6">6292.00</div>
<div class="t" style="left:796.04px;top:20.17px;font-size:13px;transform:scaleX(0.9565);color:#9c9aa8">Low</div>
<div class="t" style="left:824.4px;top:20.17px;font-size:13px;transform:scaleX(0.9617);color:#f2f2f6">6245.87</div>
<div class="t" style="left:55.7px;top:68.07px;font-size:14px;transform:scaleX(1.0238);color:#c9c8d2">Tick Chart</div>
<div class="t" style="left:143.58px;top:68.07px;font-size:14px;transform:scaleX(0.8167);color:#c9c8d2">1m</div>
<div class="t" style="left:194.39px;top:68.07px;font-size:14px;transform:scaleX(1.0111);color:#c9c8d2">5m</div>
<div class="t" style="left:245.46px;top:68.07px;font-size:14px;transform:scaleX(0.9440);color:#10303a">15m</div>
<div class="t" style="left:298.8px;top:68.07px;font-size:14px;transform:scaleX(1.0615);color:#c9c8d2">30m</div>
<div class="t" style="left:355.93px;top:68.07px;font-size:14px;transform:scaleX(0.9688);color:#c9c8d2">1H</div>
<div class="t" style="left:407.9px;top:68.07px;font-size:14px;transform:scaleX(1.0706);color:#c9c8d2">4H</div>
<div class="t" style="left:462.01px;top:68.07px;font-size:14px;transform:scaleX(0.8938);color:#c9c8d2">1D</div>
<div class="t" style="left:511.69px;top:68.07px;font-size:14px;transform:scaleX(0.9150);color:#c9c8d2">1W</div>
<div class="t" style="left:565.32px;top:68.07px;font-size:14px;transform:scaleX(0.9824);color:#c9c8d2">1M</div>
<div class="t" style="left:1016.1px;top:146.56px;font-size:13px;transform:scaleX(1.0702);color:#ecebf0">6280.00</div>
<div class="t" style="left:1016.1px;top:256.26px;font-size:13px;transform:scaleX(1.0702);color:#ecebf0">6240.00</div>
<div class="t" style="left:1016.1px;top:289.06px;font-size:13px;transform:scaleX(1.0702);color:#ecebf0">6228.00</div>
<div class="t" style="left:1014.88px;top:339.67px;font-size:13px;transform:scaleX(1.1167);color:#ecebf0">5.00</div>
<div class="t" style="left:1016px;top:372.26px;font-size:13px;transform:scaleX(1.1360);color:#ecebf0">0.00</div>
<div class="t" style="left:1016.6px;top:404.46px;font-size:13px;transform:scaleX(1.1828);color:#ecebf0">-5.00</div>
<div class="t" style="left:1015.7px;top:203.37px;font-size:13px;transform:scaleX(0.9532);color:#ffffff">6259.15</div>
<div class="t" style="left:1015.7px;top:219.56px;font-size:13px;transform:scaleX(1.0149);color:#0c2433">6258.80</div>
<div class="t" style="left:118.24px;top:436.56px;font-size:13px;transform:scaleX(1.0645);color:#ecebf0">18:00</div>
<div class="t" style="left:256.86px;top:436.56px;font-size:13px;transform:scaleX(1.1387);color:#ecebf0">10/07</div>
<div class="t" style="left:374px;top:436.56px;font-size:13px;transform:scaleX(1.1469);color:#ecebf0">06:00</div>
<div class="t" style="left:515.17px;top:436.56px;font-size:13px;transform:scaleX(1.0290);color:#ecebf0">12:00</div>
<div class="t" style="left:654.43px;top:436.56px;font-size:13px;transform:scaleX(1.0710);color:#ecebf0">18:00</div>
<div class="t" style="left:796.28px;top:436.56px;font-size:13px;transform:scaleX(1.0233);color:#ecebf0">11/07</div>
<div class="t" style="left:910.1px;top:436.56px;font-size:13px;transform:scaleX(1.1594);color:#ecebf0">06:00</div>
<div class="t" style="left:78.3px;top:114.77px;font-size:14px;transform:scaleX(1.1050);color:#ffffff">MA</div>
<div class="t" style="left:106.31px;top:115.27px;font-size:13px;transform:scaleX(0.9860);color:#f0f0f4">(5,10,30)</div>
<div class="t" style="left:79.09px;top:331.47px;font-size:14px;transform:scaleX(1.0050);color:#ffffff">MACD</div>
<div class="t" style="left:125.89px;top:331.96px;font-size:13px;transform:scaleX(0.9052);color:#f0f0f4">(12,26,9)&gt;</div>
<div class="t" style="left:73.1px;top:300.66px;font-size:11px;transform:scaleX(1.0475);color:#ecebf0">6224.25</div>
<div class="t" style="left:877.8px;top:103.85px;font-size:11px;transform:scaleX(1.0850);color:#ecebf0">6296.05</div>
<div class="t" style="left:60.5px;top:300.66px;font-size:11px;transform:scaleX(1.2000);color:#ecebf0">--</div>
<div class="t" style="left:864.9px;top:103.75px;font-size:11px;transform:scaleX(1.2857);color:#ecebf0">--</div>
<div style="position:absolute;left:1000px;top:97px;width:80px;height:10px;overflow:hidden"><div class="t" style="left:15.7px;top:-4.94px;font-size:13px;transform:scaleX(1.1170);color:#ecebf0">6300.00</div></div>
</div></body></html>
